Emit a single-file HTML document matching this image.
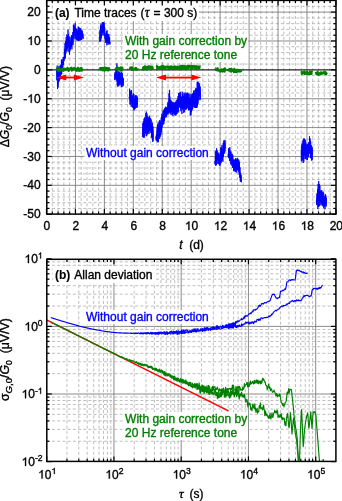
<!DOCTYPE html>
<html><head><meta charset="utf-8"><style>
html,body{margin:0;padding:0;background:#fff;width:342px;height:501px;overflow:hidden}
svg{display:block;will-change:transform}
</style></head><body>
<svg width="342" height="501" viewBox="0 0 342 501" font-family='"Liberation Sans", sans-serif'>
<rect width="342" height="501" fill="#fff"/>
<g stroke="#b4b4b4" stroke-width="0.85" stroke-dasharray="3 2.2" fill="none">
<line x1="52.29" y1="0.4" x2="52.29" y2="214.1"/>
<line x1="58.08" y1="0.4" x2="58.08" y2="214.1"/>
<line x1="63.86" y1="0.4" x2="63.86" y2="214.1"/>
<line x1="69.65" y1="0.4" x2="69.65" y2="214.1"/>
<line x1="81.23" y1="0.4" x2="81.23" y2="214.1"/>
<line x1="87.02" y1="0.4" x2="87.02" y2="214.1"/>
<line x1="92.8" y1="0.4" x2="92.8" y2="214.1"/>
<line x1="98.59" y1="0.4" x2="98.59" y2="214.1"/>
<line x1="110.17" y1="0.4" x2="110.17" y2="214.1"/>
<line x1="115.96" y1="0.4" x2="115.96" y2="214.1"/>
<line x1="121.74" y1="0.4" x2="121.74" y2="214.1"/>
<line x1="127.53" y1="0.4" x2="127.53" y2="214.1"/>
<line x1="139.11" y1="0.4" x2="139.11" y2="214.1"/>
<line x1="144.9" y1="0.4" x2="144.9" y2="214.1"/>
<line x1="150.68" y1="0.4" x2="150.68" y2="214.1"/>
<line x1="156.47" y1="0.4" x2="156.47" y2="214.1"/>
<line x1="168.05" y1="0.4" x2="168.05" y2="214.1"/>
<line x1="173.84" y1="0.4" x2="173.84" y2="214.1"/>
<line x1="179.62" y1="0.4" x2="179.62" y2="214.1"/>
<line x1="185.41" y1="0.4" x2="185.41" y2="214.1"/>
<line x1="196.99" y1="0.4" x2="196.99" y2="214.1"/>
<line x1="202.78" y1="0.4" x2="202.78" y2="214.1"/>
<line x1="208.56" y1="0.4" x2="208.56" y2="214.1"/>
<line x1="214.35" y1="0.4" x2="214.35" y2="214.1"/>
<line x1="225.93" y1="0.4" x2="225.93" y2="214.1"/>
<line x1="231.72" y1="0.4" x2="231.72" y2="214.1"/>
<line x1="237.5" y1="0.4" x2="237.5" y2="214.1"/>
<line x1="243.29" y1="0.4" x2="243.29" y2="214.1"/>
<line x1="254.87" y1="0.4" x2="254.87" y2="214.1"/>
<line x1="260.66" y1="0.4" x2="260.66" y2="214.1"/>
<line x1="266.44" y1="0.4" x2="266.44" y2="214.1"/>
<line x1="272.23" y1="0.4" x2="272.23" y2="214.1"/>
<line x1="283.81" y1="0.4" x2="283.81" y2="214.1"/>
<line x1="289.6" y1="0.4" x2="289.6" y2="214.1"/>
<line x1="295.38" y1="0.4" x2="295.38" y2="214.1"/>
<line x1="301.17" y1="0.4" x2="301.17" y2="214.1"/>
<line x1="312.75" y1="0.4" x2="312.75" y2="214.1"/>
<line x1="318.54" y1="0.4" x2="318.54" y2="214.1"/>
<line x1="324.32" y1="0.4" x2="324.32" y2="214.1"/>
<line x1="330.11" y1="0.4" x2="330.11" y2="214.1"/>
<line x1="46.8" y1="208.43" x2="336" y2="208.43"/>
<line x1="46.8" y1="202.65" x2="336" y2="202.65"/>
<line x1="46.8" y1="196.88" x2="336" y2="196.88"/>
<line x1="46.8" y1="191.1" x2="336" y2="191.1"/>
<line x1="46.8" y1="179.56" x2="336" y2="179.56"/>
<line x1="46.8" y1="173.78" x2="336" y2="173.78"/>
<line x1="46.8" y1="168.01" x2="336" y2="168.01"/>
<line x1="46.8" y1="162.23" x2="336" y2="162.23"/>
<line x1="46.8" y1="150.69" x2="336" y2="150.69"/>
<line x1="46.8" y1="144.91" x2="336" y2="144.91"/>
<line x1="46.8" y1="139.14" x2="336" y2="139.14"/>
<line x1="46.8" y1="133.36" x2="336" y2="133.36"/>
<line x1="46.8" y1="121.82" x2="336" y2="121.82"/>
<line x1="46.8" y1="116.04" x2="336" y2="116.04"/>
<line x1="46.8" y1="110.27" x2="336" y2="110.27"/>
<line x1="46.8" y1="104.49" x2="336" y2="104.49"/>
<line x1="46.8" y1="92.95" x2="336" y2="92.95"/>
<line x1="46.8" y1="87.17" x2="336" y2="87.17"/>
<line x1="46.8" y1="81.4" x2="336" y2="81.4"/>
<line x1="46.8" y1="75.62" x2="336" y2="75.62"/>
<line x1="46.8" y1="64.08" x2="336" y2="64.08"/>
<line x1="46.8" y1="58.3" x2="336" y2="58.3"/>
<line x1="46.8" y1="52.53" x2="336" y2="52.53"/>
<line x1="46.8" y1="46.75" x2="336" y2="46.75"/>
<line x1="46.8" y1="35.21" x2="336" y2="35.21"/>
<line x1="46.8" y1="29.43" x2="336" y2="29.43"/>
<line x1="46.8" y1="23.66" x2="336" y2="23.66"/>
<line x1="46.8" y1="17.88" x2="336" y2="17.88"/>
<line x1="46.8" y1="6.34" x2="336" y2="6.34"/>
</g>
<g stroke="#777777" stroke-width="0.85" fill="none">
<line x1="75.44" y1="0.4" x2="75.44" y2="214.1"/>
<line x1="104.38" y1="0.4" x2="104.38" y2="214.1"/>
<line x1="133.32" y1="0.4" x2="133.32" y2="214.1"/>
<line x1="162.26" y1="0.4" x2="162.26" y2="214.1"/>
<line x1="191.2" y1="0.4" x2="191.2" y2="214.1"/>
<line x1="220.14" y1="0.4" x2="220.14" y2="214.1"/>
<line x1="249.08" y1="0.4" x2="249.08" y2="214.1"/>
<line x1="278.02" y1="0.4" x2="278.02" y2="214.1"/>
<line x1="306.96" y1="0.4" x2="306.96" y2="214.1"/>
<line x1="46.8" y1="12.11" x2="336" y2="12.11"/>
<line x1="46.8" y1="40.98" x2="336" y2="40.98"/>
<line x1="46.8" y1="98.72" x2="336" y2="98.72"/>
<line x1="46.8" y1="127.59" x2="336" y2="127.59"/>
<line x1="46.8" y1="156.46" x2="336" y2="156.46"/>
<line x1="46.8" y1="185.33" x2="336" y2="185.33"/>
</g>
<line x1="46.8" y1="69.85" x2="336" y2="69.85" stroke="#222" stroke-width="1.2" />
<g fill="#fff">
<rect x="53" y="4" width="146" height="17"/>
<rect x="123" y="34" width="125.2" height="28"/>
<rect x="84.5" y="146" width="125" height="14"/>
</g>
<path d="M56.6,72.2 L56.8,69.9 L57,70.34 L57.3,70.41 L57.5,70.73 L58.5,70.94 L58.7,69.52 L59.6,67.97 L60,66.99 L61,64.71 L61.5,63.22 L62.5,61.03 L63.6,58.28 L63.8,57.73 L64.3,52.85 L64.8,48.36 L65.7,41.39 L66.6,38.82 L67.6,37.59 L68,34.06 L68.5,34.04 L69,34.36 L69.4,41.32 L70.4,42.52 L71.3,38.21 L72.2,37.45 L72.7,36.78 L73.2,29.42 L74.1,26.79 L75,26.81 L75.3,26.73 L76,30.84 L76.5,31.26 L76.9,31.62 L78.3,29.59 L79.3,30.32 L80.2,30.73 L80.7,30.93 L81.6,31.52 L82.1,32.51 L82.5,33.28 L83.2,35.36 L83.6,38.19 L83.6,38.41 L83.2,37.81 L82.5,37.55 L82.1,37.53 L81.6,37.44 L80.7,37.61 L80.2,37.75 L79.3,37.77 L78.3,37.71 L76.9,37.78 L76.5,37.54 L76,37.3 L75.3,35.97 L75,35.92 L74.1,34.91 L73.2,40.68 L72.7,44.12 L72.2,45.67 L71.3,46.89 L70.4,51.48 L69.4,50.78 L69,47.48 L68.5,45.71 L68,45.16 L67.6,45.71 L66.6,50.08 L65.7,53.31 L64.8,56.67 L64.3,58.7 L63.8,62.13 L63.6,63.1 L62.5,67.47 L61.5,71.68 L61,75.19 L60,76.33 L59.6,77.05 L58.7,78.48 L58.5,83.69 L57.5,83.85 L57.3,82.89 L57,81.58 L56.8,79.3 L56.6,77.8Z" fill="#0000ff"/>
<path d="M56.6,70.16 L56.9,80.25 L57.2,65.54 L57.5,89.01 L57.8,70.01 L58.1,87.42 L58.4,68.33 L58.7,82.13 L59,65.97 L59.3,80.85 L59.6,66.94 L59.9,79.64 L60.2,65.46 L60.5,78.82 L60.8,64.67 L61.1,74.92 L61.4,59.9 L61.7,74.09 L62,59.09 L62.3,70.67 L62.6,63.14 L62.9,68.13 L63.2,57 L63.5,65.02 L63.8,56.85 L64.1,61.11 L64.4,49.35 L64.7,58.87 L65,43.09 L65.3,58.41 L65.6,41.06 L65.9,53.62 L66.2,37.02 L66.5,49.4 L66.8,34.47 L67.1,51.46 L67.4,36.08 L67.7,48.77 L68,29.57 L68.3,47.27 L68.6,38.15 L68.9,52.01 L69.2,36.28 L69.5,54.68 L69.8,38.32 L70.1,48.8 L70.4,43.15 L70.7,47.5 L71,36.74 L71.3,46.61 L71.6,35.02 L71.9,49.36 L72.2,35.25 L72.5,42.6 L72.8,32.1 L73.1,44.94 L73.4,24.71 L73.7,37.56 L74,24.7 L74.3,34.45 L74.6,28.29 L74.9,39.36 L75.2,23.13 L75.5,38.2 L75.8,28.55 L76.1,38.46 L76.4,28.55 L76.7,40.24 L77,29.08 L77.3,40.15 L77.6,31.39 L77.9,40.81 L78.2,26.48 L78.5,40.85 L78.8,27.65 L79.1,40.51 L79.4,27.58 L79.7,40.45 L80,29.03 L80.3,40.39 L80.6,28.18 L80.9,39.81 L81.2,30.53 L81.5,39.92 L81.8,29.6 L82.1,39.25 L82.4,31.32 L82.7,36.29 L83,33.65 L83.3,38.7 L83.6,37.95" fill="none" stroke="#0000ff" stroke-width="0.85" stroke-linejoin="miter"/>
<path d="M99.3,41.31 L99.7,35.46 L100.2,28.91 L101.1,26.81 L102.1,24.49 L103,23.51 L103.5,23.6 L104,23.96 L104.4,25.73 L104.9,29.41 L105.4,33.19 L106.3,33.7 L107.2,33.35 L108.2,36.19 L109.1,36.93 L110,40.64 L110.3,45.04 L110.3,45.16 L110,44.06 L109.1,42.87 L108.2,42.51 L107.2,41.86 L106.3,42.1 L105.4,41.31 L104.9,39.89 L104.4,33.46 L104,32.52 L103.5,31.86 L103,32.19 L102.1,33.11 L101.1,36.49 L100.2,38.09 L99.7,39.94 L99.3,41.59Z" fill="#0000ff"/>
<path d="M99.3,41.08 L99.6,41.62 L99.9,30.2 L100.2,41.7 L100.5,25.18 L100.8,40.83 L101.1,23.65 L101.4,38.23 L101.7,26.87 L102,35.44 L102.3,22.02 L102.6,32.74 L102.9,22.21 L103.2,35.53 L103.5,22.11 L103.8,31.4 L104.1,22.68 L104.4,36.1 L104.7,27.49 L105,38.59 L105.3,35.47 L105.6,42.85 L105.9,35.09 L106.2,42.2 L106.5,31.22 L106.8,45.33 L107.1,30.27 L107.4,42.57 L107.7,34.61 L108,44.78 L108.3,33.95 L108.6,43.33 L108.9,34.45 L109.2,44.16 L109.5,37.14 L109.8,44.28 L110.1,41.65" fill="none" stroke="#0000ff" stroke-width="0.85" stroke-linejoin="miter"/>
<path d="M114.5,73.19 L115,73.19 L115.6,69.19 L115.9,67.35 L117,68.5 L117.8,74.12 L119.2,74.02 L119.9,74.3 L121.3,74.87 L122,75.55 L122.4,76.26 L123,76.36 L123.4,78.99 L123.5,78.44 L123.5,79.56 L123.4,83.95 L123,84.42 L122.4,86.2 L122,85.08 L121.3,83.29 L119.9,82.46 L119.2,82.05 L117.8,83.58 L117,81.5 L115.9,79.2 L115.6,79.18 L115,80.31 L114.5,80.31Z" fill="#0000ff"/>
<path d="M114.5,74.55 L114.8,79.77 L115.1,72.07 L115.4,78.92 L115.7,73.97 L116,78.95 L116.3,67.63 L116.6,80.52 L116.9,63.32 L117.2,85.29 L117.5,75.66 L117.8,86.83 L118.1,71.12 L118.4,86.1 L118.7,71.79 L119,83.69 L119.3,72.61 L119.6,85.37 L119.9,71.38 L120.2,80.2 L120.5,72.93 L120.8,85.31 L121.1,76.79 L121.4,87.04 L121.7,71.85 L122,87.13 L122.3,73.22 L122.6,84.76 L122.9,78.17 L123.2,86.19 L123.5,78.21" fill="none" stroke="#0000ff" stroke-width="0.85" stroke-linejoin="miter"/>
<path d="M129.1,97.19 L129.4,90.42 L129.7,91.14 L130.4,90.91 L131.1,92.43 L131.8,93.86 L132.8,95.51 L133.2,96.31 L134.2,97.92 L134.6,98.29 L136,98.29 L136.7,98.35 L137.8,99.26 L137.8,104.74 L136.7,105.1 L136,105.48 L134.6,106.65 L134.2,106.88 L133.2,104.99 L132.8,104.19 L131.8,103.43 L131.1,102.82 L130.4,101.89 L129.7,101.45 L129.4,98.38 L129.1,97.41Z" fill="#0000ff"/>
<path d="M129.1,97.01 L129.4,98.05 L129.7,88.7 L130,104.63 L130.3,90.61 L130.6,104.29 L130.9,91.78 L131.2,106.92 L131.5,90.05 L131.8,100.14 L132.1,97.56 L132.4,107.41 L132.7,95.98 L133,107.5 L133.3,93.22 L133.6,109.35 L133.9,94.14 L134.2,110.51 L134.5,97.9 L134.8,108.65 L135.1,95.69 L135.4,108.7 L135.7,95.22 L136,104.66 L136.3,95.48 L136.6,107.87 L136.9,95.84 L137.2,107.46 L137.5,97.05" fill="none" stroke="#0000ff" stroke-width="0.85" stroke-linejoin="miter"/>
<path d="M142.2,136.09 L142.8,126.6 L143.4,124.13 L144,121.79 L145.2,119.92 L146.4,116.84 L147.6,119.39 L149.4,119.57 L151.2,123.29 L152.4,126.99 L152.6,127.37 L153.3,130.96 L153.6,134.83 L153.6,139.47 L153.3,138.49 L152.6,137.73 L152.4,137.69 L151.2,132.41 L149.4,129.93 L147.6,130.81 L146.4,130.96 L145.2,132.68 L144,133.21 L143.4,133.87 L142.8,135 L142.2,138.11Z" fill="#0000ff"/>
<path d="M142.2,136.09 L142.5,137.11 L142.8,123.16 L143.1,136 L143.4,121.35 L143.7,137.84 L144,118.68 L144.3,137.42 L144.6,117.44 L144.9,135.96 L145.2,118.92 L145.5,133.49 L145.8,112.98 L146.1,131.11 L146.4,111.61 L146.7,136.31 L147,113.63 L147.3,134.5 L147.6,116.2 L147.9,134.18 L148.2,117.41 L148.5,132.14 L148.8,117.31 L149.1,133.99 L149.4,115.68 L149.7,130.51 L150,117.83 L150.3,130.98 L150.6,118.15 L150.9,132.8 L151.2,119.57 L151.5,137.42 L151.8,128.23 L152.1,138.47 L152.4,122.65 L152.7,141.9 L153,126.38 L153.3,141.19" fill="none" stroke="#0000ff" stroke-width="0.85" stroke-linejoin="miter"/>
<path d="M155.8,136.88 L156.6,133.81 L157.2,128.33 L157.8,127.52 L159,125.39 L160.2,123.97 L160.8,123.13 L161.4,119.8 L162,116.46 L162.6,115.27 L163.7,113.27 L165.5,109.48 L167.3,107.96 L168.5,100.79 L169.4,95.06 L170.3,96.52 L170.9,102.95 L172,103.74 L173.5,105.3 L173.8,105.56 L175.1,106 L175.6,105.12 L176.8,102.8 L178,99.13 L179.2,95.59 L180.4,95.56 L181.6,96.5 L182.2,96.85 L184,96.32 L186.4,96 L188.8,97.46 L190.6,97.81 L191.2,97.05 L192.4,95.53 L193.6,94.93 L194.8,93.55 L195.4,92.92 L196.6,87.85 L197.1,87.64 L197.7,86.86 L198.9,86.74 L199.8,86.14 L200.7,93.88 L200.7,97.92 L199.8,96.16 L198.9,96.76 L197.7,100.24 L197.1,102.19 L196.6,102.25 L195.4,103.68 L194.8,103.85 L193.6,104.67 L192.4,105.27 L191.2,109.15 L190.6,111.09 L188.8,107.54 L186.4,105.4 L184,108.08 L182.2,109.95 L181.6,108.7 L180.4,106.14 L179.2,107.01 L178,108.87 L176.8,111.2 L175.6,113.15 L175.1,113.63 L173.8,114.13 L173.5,113.7 L172,111.46 L170.9,111.99 L170.3,110.58 L169.4,108.44 L168.5,110.43 L167.3,112.94 L165.5,116.82 L163.7,121.33 L162.6,124.48 L162,126.54 L161.4,129.2 L160.8,131.87 L160.2,133.83 L159,136.81 L157.8,138.28 L157.2,138.07 L156.6,139.19 L155.8,139.12Z" fill="#0000ff"/>
<path d="M155.8,136.38 L156.1,140.37 L156.4,134.45 L156.7,140.9 L157,127.53 L157.3,141.73 L157.6,124.14 L157.9,142.49 L158.2,122.37 L158.5,141.9 L158.8,126.12 L159.1,137.1 L159.4,120.49 L159.7,138.89 L160,120.1 L160.3,136.72 L160.6,121.94 L160.9,135.05 L161.2,117.47 L161.5,132.27 L161.8,113.84 L162.1,127.83 L162.4,117.43 L162.7,123.39 L163,111.27 L163.3,124.62 L163.6,110.2 L163.9,123.92 L164.2,109.22 L164.5,120.92 L164.8,107.99 L165.1,117.77 L165.4,106.73 L165.7,116.55 L166,106.9 L166.3,117.24 L166.6,107.79 L166.9,115.23 L167.2,107.1 L167.5,114.02 L167.8,102.21 L168.1,114.57 L168.4,105.29 L168.7,113.39 L169,93.32 L169.3,112.31 L169.6,89.92 L169.9,113.33 L170.2,100.51 L170.5,113.52 L170.8,99.94 L171.1,115.11 L171.4,100.88 L171.7,111.88 L172,106.15 L172.3,114.53 L172.6,101.77 L172.9,116.14 L173.2,102.45 L173.5,113.31 L173.8,102.49 L174.1,111.93 L174.4,102.64 L174.7,114.93 L175,103.96 L175.3,115.6 L175.6,101.82 L175.9,115.41 L176.2,100.59 L176.5,114.22 L176.8,100.06 L177.1,113.87 L177.4,98.9 L177.7,111.91 L178,96.17 L178.3,112.49 L178.6,93.05 L178.9,107.64 L179.2,93.07 L179.5,106.27 L179.8,92.5 L180.1,108.15 L180.4,91.83 L180.7,111.12 L181,103.16 L181.3,104.38 L181.6,102.37 L181.9,114.02 L182.2,91.67 L182.5,106.77 L182.8,94.33 L183.1,104.18 L183.4,96.44 L183.7,112.98 L184,92.7 L184.3,112.15 L184.6,94.5 L184.9,106.6 L185.2,92.52 L185.5,109.8 L185.8,95.39 L186.1,109.69 L186.4,93.03 L186.7,108.85 L187,92.7 L187.3,108.25 L187.6,92.79 L187.9,106.67 L188.2,93.57 L188.5,110.34 L188.8,93.8 L189.1,109.71 L189.4,98.43 L189.7,110.07 L190,93.75 L190.3,115.58 L190.6,97.78 L190.9,115.01 L191.2,95.18 L191.5,112.19 L191.8,94.13 L192.1,110.43 L192.4,93.57 L192.7,108.95 L193,93.34 L193.3,107.15 L193.6,90.97 L193.9,102.45 L194.2,90.19 L194.5,107.51 L194.8,92.71 L195.1,107.77 L195.4,88.96 L195.7,108.02 L196,87.86 L196.3,107.98 L196.6,88.62 L196.9,107.93 L197.2,82.06 L197.5,106.21 L197.8,81.61 L198.1,103.51 L198.4,82.38 L198.7,100.03 L199,85.96 L199.3,94.01 L199.6,83.28 L199.9,100.18 L200.2,86.59 L200.5,99.33" fill="none" stroke="#0000ff" stroke-width="0.85" stroke-linejoin="miter"/>
<path d="M214.8,161.96 L215.4,154.47 L216,153.1 L216.6,151.47 L217.2,153.04 L217.8,155.14 L219,155.67 L219.6,155.54 L220.2,153.4 L221.4,148.69 L222,148.58 L222.6,148.94 L223.2,146.73 L223.8,143.47 L224.4,142.08 L225,141.2 L225.6,144.54 L225.6,148.46 L225,148.85 L224.4,150.42 L223.8,153.83 L223.2,157.77 L222.6,157.96 L222,157.42 L221.4,158.61 L220.2,162.23 L219.6,163.26 L219,163.73 L217.8,161.86 L217.2,160.41 L216.6,160.83 L216,162.15 L215.4,162.53 L214.8,164.64Z" fill="#0000ff"/>
<path d="M214.8,160.76 L215.1,164.32 L215.4,151.41 L215.7,165.85 L216,150.52 L216.3,165.23 L216.6,148.26 L216.9,163.96 L217.2,150.37 L217.5,161.11 L217.8,152.38 L218.1,163.81 L218.4,152.83 L218.7,163.85 L219,154.15 L219.3,165.16 L219.6,157.51 L219.9,165.99 L220.2,152.68 L220.5,164.26 L220.8,147.25 L221.1,163.13 L221.4,147.33 L221.7,161.43 L222,144.95 L222.3,160.29 L222.6,152.02 L222.9,161.74 L223.2,143 L223.5,156.72 L223.8,140.41 L224.1,153.94 L224.4,141.18 L224.7,152.48 L225,140 L225.3,150.99" fill="none" stroke="#0000ff" stroke-width="0.85" stroke-linejoin="miter"/>
<path d="M228,154.76 L228.6,151.15 L229.8,150.48 L230.4,150.36 L231.6,155.67 L232.8,158.33 L233.4,159.33 L234,159.73 L235.1,160.51 L235.7,160.91 L236.9,161.62 L237.5,161.51 L238.7,161.55 L239.3,163.13 L239.7,164.64 L240.2,173.78 L240.5,174.91 L241.4,177 L241.6,182.61 L241.6,182.89 L241.4,181.32 L240.5,180.79 L240.2,179.07 L239.7,174.16 L239.3,171.87 L238.7,170.85 L237.5,169.69 L236.9,169.58 L235.7,169.09 L235.1,168.67 L234,167.89 L233.4,167.57 L232.8,167.07 L231.6,163.73 L230.4,159.94 L229.8,158.82 L228.6,158.15 L228,157.44Z" fill="#0000ff"/>
<path d="M228,154.3 L228.3,156.86 L228.6,148.25 L228.9,158.03 L229.2,148.54 L229.5,161.08 L229.8,147.14 L230.1,157.41 L230.4,153.97 L230.7,164.44 L231,151.67 L231.3,160.87 L231.6,154.46 L231.9,165.93 L232.2,153.82 L232.5,167.75 L232.8,155.17 L233.1,167.71 L233.4,160.42 L233.7,171.08 L234,159.87 L234.3,171.4 L234.6,159.62 L234.9,170.4 L235.2,159.42 L235.5,172.07 L235.8,158.07 L236.1,167.83 L236.4,159.54 L236.7,172.65 L237,158.69 L237.3,169.72 L237.6,158.19 L237.9,170.42 L238.2,159.34 L238.5,171.62 L238.8,159.87 L239.1,174.62 L239.4,161.75 L239.7,177.73 L240,167.32 L240.3,181.48 L240.6,172.86 L240.9,182 L241.2,174.85 L241.5,182.56" fill="none" stroke="#0000ff" stroke-width="0.85" stroke-linejoin="miter"/>
<path d="M301.1,150.13 L301.6,148.8 L301.8,148.3 L302.6,145.49 L303.5,144.22 L303.7,143.79 L304.5,142.53 L305.2,143.86 L305.5,144.81 L306,146.61 L306.5,147.82 L306.9,148.72 L307.8,145.92 L308,145.23 L308.6,142.82 L309,141.85 L309.6,140.97 L310,142.35 L310.3,143.42 L311,146.85 L312,149.19 L312.4,150.02 L312.6,150.07 L312.7,153.32 L312.7,156.68 L312.6,156.36 L312.4,157.54 L312,157.31 L311,156.65 L310.3,154.68 L310,153.95 L309.6,153.13 L309,152.73 L308.6,153.8 L308,155.69 L307.8,155.88 L306.9,156.68 L306.5,156.42 L306,155.79 L305.5,155 L305.2,154.94 L304.5,155.07 L303.7,157.27 L303.5,157.85 L302.6,158.21 L301.8,159 L301.6,158.48 L301.1,151.47Z" fill="#0000ff"/>
<path d="M301.1,149.73 L301.4,161.46 L301.7,144.44 L302,160.88 L302.3,143.09 L302.6,159.76 L302.9,140.35 L303.2,162.98 L303.5,138.79 L303.8,162.07 L304.1,138.37 L304.4,153.84 L304.7,138.98 L305,159.13 L305.3,139.83 L305.6,158.77 L305.9,142.79 L306.2,154.08 L306.5,144.49 L306.8,159.79 L307.1,144.77 L307.4,159.89 L307.7,143.84 L308,157.68 L308.3,149.83 L308.6,157.07 L308.9,142.08 L309.2,153.73 L309.5,136.3 L309.8,151.94 L310.1,138.49 L310.4,158.23 L310.7,141.53 L311,158.03 L311.3,145.04 L311.6,160.58 L311.9,146.72 L312.2,160.22 L312.5,147.58" fill="none" stroke="#0000ff" stroke-width="0.85" stroke-linejoin="miter"/>
<path d="M316.3,199.4 L316.8,197.2 L317.2,194.91 L318,190.14 L318.5,186.86 L319.7,186.33 L320.2,192.91 L321.4,193.17 L322.3,193.67 L323.1,195.17 L324.8,197.62 L325.7,197.34 L326,197.26 L326.5,199.54 L326.6,204.77 L326.6,204.93 L326.5,203.71 L326,204.3 L325.7,205.06 L324.8,207.58 L323.1,203.23 L322.3,202.23 L321.4,201.45 L320.2,201.83 L319.7,200.17 L318.5,202.04 L318,203.68 L317.2,204.59 L316.8,205.02 L316.3,203.2Z" fill="#0000ff"/>
<path d="M316.3,199.87 L316.6,205.05 L316.9,193.49 L317.2,203.87 L317.5,189.13 L317.8,208.99 L318.1,184 L318.4,206.89 L318.7,181.15 L319,206.5 L319.3,183.96 L319.6,205.82 L319.9,185.53 L320.2,200.69 L320.5,190.74 L320.8,205.16 L321.1,190.62 L321.4,203.48 L321.7,190.14 L322,205.38 L322.3,192.07 L322.6,205.98 L322.9,191.54 L323.2,206.63 L323.5,192.58 L323.8,208.28 L324.1,198.7 L324.4,205.89 L324.7,195.88 L325,209.26 L325.3,193.96 L325.6,205.97 L325.9,195.43 L326.2,206.53 L326.5,197.76" fill="none" stroke="#0000ff" stroke-width="0.85" stroke-linejoin="miter"/>
<path d="M56.3,68.53 L56.7,69.3 L57.1,68.49 L57.5,69.53 L57.9,69.4 L58.3,70.85 L58.7,70.97 L59.1,67.72 L59.5,69.51 L59.9,70.22 L60.3,70.57 L60.7,70.23 L61.1,69.75 L61.5,69.76 L61.9,68.83 L62.3,68.56 L62.7,70.3 L63.1,70.57 L63.5,70.79 L63.9,69.92 L64.3,68.63 L64.7,70.2 L65.1,70.11 L65.5,69.33 L65.9,69.76 L66.3,68.79 L66.7,69.47 L67.1,68.98 L67.5,67.81 L67.9,68.75 L68.3,68.7 L68.7,70.96 L69.1,69.24 L69.5,68.85 L69.9,68.43 L70.3,68.4 L70.7,68.79 L71.1,68.06 L71.5,67.62 L71.9,70.56 L72.3,69.14 L72.7,69.11 L73.1,69.53 L73.5,68.63 L73.9,68.17 L74.3,67.83 L74.7,68.63 L75.1,68.65 L75.5,70.07 L75.9,69.47 L76.3,70.79 L76.7,68.76 L77.1,70.73 L77.5,69.58 L77.9,67.87 L78.3,68.21 L78.7,69.57 L79.1,70.96 L79.5,68.81 L79.9,70.23 L80.3,69.06 L80.7,70.55 L81.1,67.83 L81.5,69.25 L81.9,70.66 L82.3,68.54 L82.7,68.48" fill="none" stroke="#008000" stroke-width="2.2" stroke-linejoin="round"/>
<path d="M99.5,67.38 L99.9,67.86 L100.3,68.21 L100.7,69.69 L101.1,68.04 L101.5,68.66 L101.9,67.98 L102.3,69.35 L102.7,70.24 L103.1,69.5 L103.5,67.97 L103.9,69.8 L104.3,70.57 L104.7,69.34 L105.1,67.57 L105.5,70.05 L105.9,70.28 L106.3,68.46 L106.7,67.76 L107.1,67.94 L107.5,69.13 L107.9,70.28 L108.3,69.48 L108.7,70.44 L109.1,68.02 L109.5,68.41" fill="none" stroke="#008000" stroke-width="2.2" stroke-linejoin="round"/>
<path d="M115,69.85 L115.4,69.51 L115.8,68.68 L116.2,69.61 L116.6,68.45 L117,67.5 L117.4,68.71 L117.8,67.45 L118.2,69.43 L118.6,68.44 L119,68.98 L119.4,69.33 L119.8,68.17 L120.2,68.88 L120.6,67.35 L121,70.45 L121.4,69.22 L121.8,70.66 L122.2,67.49 L122.6,69.39" fill="none" stroke="#008000" stroke-width="2.2" stroke-linejoin="round"/>
<path d="M129.7,69.56 L130.1,68.22 L130.5,67.42 L130.9,67.63 L131.3,67.59 L131.7,69.71 L132.1,67.41 L132.5,69.87 L132.9,68.54 L133.3,68.93 L133.7,69.1 L134.1,68.99 L134.5,69.34 L134.9,69.15 L135.3,68.22 L135.7,69.62 L136.1,67.98 L136.5,69.52 L136.9,69.7 L137.3,69.74 L137.7,68.15" fill="none" stroke="#008000" stroke-width="2.2" stroke-linejoin="round"/>
<path d="M142.3,68.93 L142.7,69.62 L143.1,67.83 L143.5,67.22 L143.9,68.05 L144.3,69.46 L144.7,66.71 L145.1,66.28 L145.5,67.86 L145.9,68.46 L146.3,68.86 L146.7,67.45 L147.1,69.58 L147.5,66.98 L147.9,68.77 L148.3,66.5 L148.7,66.28 L149.1,66.63 L149.5,66.37 L149.9,67.87 L150.3,68.04 L150.7,66.77 L151.1,69.34 L151.5,67.38 L151.9,66.63 L152.3,66.72 L152.7,68.62 L153.1,69.24" fill="none" stroke="#008000" stroke-width="2.2" stroke-linejoin="round"/>
<path d="M156.5,66.45 L156.9,66 L157.3,68.54 L157.7,66.72 L158.1,69.23 L158.5,67.59 L158.9,68.05 L159.3,67.06 L159.7,68.61 L160.1,67.45 L160.5,66.98 L160.9,68.95 L161.3,66.24 L161.7,68.37 L162.1,66.1 L162.5,68.07 L162.9,67.24 L163.3,68.81 L163.7,66.07 L164.1,67.78 L164.5,67.26 L164.9,68.99 L165.3,69.07 L165.7,67.99 L166.1,66.62 L166.5,66.71 L166.9,66.74 L167.3,67.33 L167.7,66.64 L168.1,66.54 L168.5,68.43 L168.9,68.03 L169.3,66.86 L169.7,69.22 L170.1,66.57 L170.5,67.77 L170.9,66.37 L171.3,68.77 L171.7,68.79 L172.1,66.74 L172.5,68.38 L172.9,68.62 L173.3,66.78 L173.7,66.95 L174.1,67.47 L174.5,68.85 L174.9,66.37 L175.3,68.14 L175.7,67.84 L176.1,67.35 L176.5,67.78 L176.9,68.81 L177.3,66.52 L177.7,68.81 L178.1,67.03 L178.5,68.45 L178.9,68.73 L179.3,66.42 L179.7,68.73 L180.1,69.18 L180.5,66.8 L180.9,65.87 L181.3,66.17 L181.7,69.1 L182.1,65.82 L182.5,68.88 L182.9,66.29 L183.3,68.28 L183.7,66.11 L184.1,66.35 L184.5,68.09 L184.9,66.08 L185.3,66.92 L185.7,68.89 L186.1,68.2 L186.5,68.76 L186.9,69.09 L187.3,65.87 L187.7,66.56 L188.1,68.45 L188.5,68.1 L188.9,65.88 L189.3,67.47 L189.7,66.54 L190.1,67.21 L190.5,66.1 L190.9,65.81 L191.3,69.11 L191.7,66.82 L192.1,68.73 L192.5,66.15 L192.9,67.39 L193.3,66.2 L193.7,67.19 L194.1,66.34 L194.5,68.06 L194.9,66.23 L195.3,68.23 L195.7,67.43 L196.1,66.1 L196.5,66.92 L196.9,67.4 L197.3,68.84 L197.7,66.9 L198.1,66.44 L198.5,69 L198.9,68.71 L199.3,68.19 L199.7,66.63 L200.1,66.31 L200.5,66.6" fill="none" stroke="#008000" stroke-width="2.2" stroke-linejoin="round"/>
<path d="M215.3,68.53 L215.7,68.45 L216.1,70.03 L216.5,69.69 L216.9,70.19 L217.3,69.53 L217.7,68.34 L218.1,70.64 L218.5,70.52 L218.9,70.15 L219.3,70.17 L219.7,70.65 L220.1,71.64 L220.5,71.27 L220.9,70.74 L221.3,69.66 L221.7,69.38 L222.1,69.73 L222.5,71.61 L222.9,69.62 L223.3,69.61 L223.7,69.69 L224.1,68.79 L224.5,71.69 L224.9,68.32 L225.3,70.37 L225.7,71.45" fill="none" stroke="#008000" stroke-width="2.2" stroke-linejoin="round"/>
<path d="M227.9,69.17 L228.3,70.41 L228.7,69.64 L229.1,69.21 L229.5,69.09 L229.9,68.84 L230.3,71.34 L230.7,71.17 L231.1,71.62 L231.5,68.73 L231.9,70.95 L232.3,69.72 L232.7,70.85 L233.1,70.55 L233.5,69.78 L233.9,72.04 L234.3,68.77 L234.7,71.33 L235.1,71.73 L235.5,70.59 L235.9,70.9 L236.3,72.3 L236.7,69.74 L237.1,71.11 L237.5,71.53 L237.9,70.32 L238.3,71.48 L238.7,70.43 L239.1,70.91 L239.5,71.23 L239.9,71.48 L240.3,70.3 L240.7,71.37 L241.1,71.11 L241.5,70.05" fill="none" stroke="#008000" stroke-width="2.2" stroke-linejoin="round"/>
<path d="M301.3,72.98 L301.7,71.81 L302.1,74.02 L302.5,72.55 L302.9,73.41 L303.3,72.75 L303.7,72.6 L304.1,71.75 L304.5,71.5 L304.9,74.18 L305.3,72.84 L305.7,72.84 L306.1,72.86 L306.5,73.85 L306.9,71.91 L307.3,71.7 L307.7,73.92 L308.1,72.7 L308.5,73.33 L308.9,73.98 L309.3,74.22 L309.7,74.15 L310.1,71.36 L310.5,72.52 L310.9,74.07 L311.3,74.03 L311.7,71.68 L312.1,71.8 L312.5,72.15" fill="none" stroke="#008000" stroke-width="2.2" stroke-linejoin="round"/>
<path d="M315.7,71.85 L316.1,72.73 L316.5,74.27 L316.9,73.33 L317.3,73.12 L317.7,71.9 L318.1,72.97 L318.5,75.03 L318.9,74.03 L319.3,73.21 L319.7,73.33 L320.1,74.44 L320.5,74.32 L320.9,72.27 L321.3,74.1 L321.7,73.05 L322.1,73.6 L322.5,72.65 L322.9,73.13 L323.3,73.04 L323.7,73.2 L324.1,71.99 L324.5,72.63 L324.9,73.91 L325.3,72.18 L325.7,72.62 L326.1,74.47 L326.5,72.98 L326.9,73.17 L327.3,72.91" fill="none" stroke="#008000" stroke-width="2.2" stroke-linejoin="round"/>
<line x1="65.3" y1="77.5" x2="75" y2="77.5" stroke="#ff0000" stroke-width="1.8"/>
<path d="M56.3,77.5 L66.3,74.5 L66.3,80.5Z M84,77.5 L74,74.5 L74,80.5Z" fill="#ff0000"/>
<line x1="165" y1="77.6" x2="192.3" y2="77.6" stroke="#ff0000" stroke-width="1.8"/>
<path d="M156,77.6 L166,74.6 L166,80.6Z M201.3,77.6 L191.3,74.6 L191.3,80.6Z" fill="#ff0000"/>
<g stroke="#000" stroke-width="1.2">
<line x1="46.5" y1="214.1" x2="46.5" y2="209.1"/>
<line x1="46.5" y1="0.4" x2="46.5" y2="5.4"/>
<line x1="75.44" y1="214.1" x2="75.44" y2="209.1"/>
<line x1="75.44" y1="0.4" x2="75.44" y2="5.4"/>
<line x1="104.38" y1="214.1" x2="104.38" y2="209.1"/>
<line x1="104.38" y1="0.4" x2="104.38" y2="5.4"/>
<line x1="133.32" y1="214.1" x2="133.32" y2="209.1"/>
<line x1="133.32" y1="0.4" x2="133.32" y2="5.4"/>
<line x1="162.26" y1="214.1" x2="162.26" y2="209.1"/>
<line x1="162.26" y1="0.4" x2="162.26" y2="5.4"/>
<line x1="191.2" y1="214.1" x2="191.2" y2="209.1"/>
<line x1="191.2" y1="0.4" x2="191.2" y2="5.4"/>
<line x1="220.14" y1="214.1" x2="220.14" y2="209.1"/>
<line x1="220.14" y1="0.4" x2="220.14" y2="5.4"/>
<line x1="249.08" y1="214.1" x2="249.08" y2="209.1"/>
<line x1="249.08" y1="0.4" x2="249.08" y2="5.4"/>
<line x1="278.02" y1="214.1" x2="278.02" y2="209.1"/>
<line x1="278.02" y1="0.4" x2="278.02" y2="5.4"/>
<line x1="306.96" y1="214.1" x2="306.96" y2="209.1"/>
<line x1="306.96" y1="0.4" x2="306.96" y2="5.4"/>
<line x1="335.9" y1="214.1" x2="335.9" y2="209.1"/>
<line x1="335.9" y1="0.4" x2="335.9" y2="5.4"/>
<line x1="52.29" y1="214.1" x2="52.29" y2="211.5"/>
<line x1="52.29" y1="0.4" x2="52.29" y2="3"/>
<line x1="58.08" y1="214.1" x2="58.08" y2="211.5"/>
<line x1="58.08" y1="0.4" x2="58.08" y2="3"/>
<line x1="63.86" y1="214.1" x2="63.86" y2="211.5"/>
<line x1="63.86" y1="0.4" x2="63.86" y2="3"/>
<line x1="69.65" y1="214.1" x2="69.65" y2="211.5"/>
<line x1="69.65" y1="0.4" x2="69.65" y2="3"/>
<line x1="81.23" y1="214.1" x2="81.23" y2="211.5"/>
<line x1="81.23" y1="0.4" x2="81.23" y2="3"/>
<line x1="87.02" y1="214.1" x2="87.02" y2="211.5"/>
<line x1="87.02" y1="0.4" x2="87.02" y2="3"/>
<line x1="92.8" y1="214.1" x2="92.8" y2="211.5"/>
<line x1="92.8" y1="0.4" x2="92.8" y2="3"/>
<line x1="98.59" y1="214.1" x2="98.59" y2="211.5"/>
<line x1="98.59" y1="0.4" x2="98.59" y2="3"/>
<line x1="110.17" y1="214.1" x2="110.17" y2="211.5"/>
<line x1="110.17" y1="0.4" x2="110.17" y2="3"/>
<line x1="115.96" y1="214.1" x2="115.96" y2="211.5"/>
<line x1="115.96" y1="0.4" x2="115.96" y2="3"/>
<line x1="121.74" y1="214.1" x2="121.74" y2="211.5"/>
<line x1="121.74" y1="0.4" x2="121.74" y2="3"/>
<line x1="127.53" y1="214.1" x2="127.53" y2="211.5"/>
<line x1="127.53" y1="0.4" x2="127.53" y2="3"/>
<line x1="139.11" y1="214.1" x2="139.11" y2="211.5"/>
<line x1="139.11" y1="0.4" x2="139.11" y2="3"/>
<line x1="144.9" y1="214.1" x2="144.9" y2="211.5"/>
<line x1="144.9" y1="0.4" x2="144.9" y2="3"/>
<line x1="150.68" y1="214.1" x2="150.68" y2="211.5"/>
<line x1="150.68" y1="0.4" x2="150.68" y2="3"/>
<line x1="156.47" y1="214.1" x2="156.47" y2="211.5"/>
<line x1="156.47" y1="0.4" x2="156.47" y2="3"/>
<line x1="168.05" y1="214.1" x2="168.05" y2="211.5"/>
<line x1="168.05" y1="0.4" x2="168.05" y2="3"/>
<line x1="173.84" y1="214.1" x2="173.84" y2="211.5"/>
<line x1="173.84" y1="0.4" x2="173.84" y2="3"/>
<line x1="179.62" y1="214.1" x2="179.62" y2="211.5"/>
<line x1="179.62" y1="0.4" x2="179.62" y2="3"/>
<line x1="185.41" y1="214.1" x2="185.41" y2="211.5"/>
<line x1="185.41" y1="0.4" x2="185.41" y2="3"/>
<line x1="196.99" y1="214.1" x2="196.99" y2="211.5"/>
<line x1="196.99" y1="0.4" x2="196.99" y2="3"/>
<line x1="202.78" y1="214.1" x2="202.78" y2="211.5"/>
<line x1="202.78" y1="0.4" x2="202.78" y2="3"/>
<line x1="208.56" y1="214.1" x2="208.56" y2="211.5"/>
<line x1="208.56" y1="0.4" x2="208.56" y2="3"/>
<line x1="214.35" y1="214.1" x2="214.35" y2="211.5"/>
<line x1="214.35" y1="0.4" x2="214.35" y2="3"/>
<line x1="225.93" y1="214.1" x2="225.93" y2="211.5"/>
<line x1="225.93" y1="0.4" x2="225.93" y2="3"/>
<line x1="231.72" y1="214.1" x2="231.72" y2="211.5"/>
<line x1="231.72" y1="0.4" x2="231.72" y2="3"/>
<line x1="237.5" y1="214.1" x2="237.5" y2="211.5"/>
<line x1="237.5" y1="0.4" x2="237.5" y2="3"/>
<line x1="243.29" y1="214.1" x2="243.29" y2="211.5"/>
<line x1="243.29" y1="0.4" x2="243.29" y2="3"/>
<line x1="254.87" y1="214.1" x2="254.87" y2="211.5"/>
<line x1="254.87" y1="0.4" x2="254.87" y2="3"/>
<line x1="260.66" y1="214.1" x2="260.66" y2="211.5"/>
<line x1="260.66" y1="0.4" x2="260.66" y2="3"/>
<line x1="266.44" y1="214.1" x2="266.44" y2="211.5"/>
<line x1="266.44" y1="0.4" x2="266.44" y2="3"/>
<line x1="272.23" y1="214.1" x2="272.23" y2="211.5"/>
<line x1="272.23" y1="0.4" x2="272.23" y2="3"/>
<line x1="283.81" y1="214.1" x2="283.81" y2="211.5"/>
<line x1="283.81" y1="0.4" x2="283.81" y2="3"/>
<line x1="289.6" y1="214.1" x2="289.6" y2="211.5"/>
<line x1="289.6" y1="0.4" x2="289.6" y2="3"/>
<line x1="295.38" y1="214.1" x2="295.38" y2="211.5"/>
<line x1="295.38" y1="0.4" x2="295.38" y2="3"/>
<line x1="301.17" y1="214.1" x2="301.17" y2="211.5"/>
<line x1="301.17" y1="0.4" x2="301.17" y2="3"/>
<line x1="312.75" y1="214.1" x2="312.75" y2="211.5"/>
<line x1="312.75" y1="0.4" x2="312.75" y2="3"/>
<line x1="318.54" y1="214.1" x2="318.54" y2="211.5"/>
<line x1="318.54" y1="0.4" x2="318.54" y2="3"/>
<line x1="324.32" y1="214.1" x2="324.32" y2="211.5"/>
<line x1="324.32" y1="0.4" x2="324.32" y2="3"/>
<line x1="330.11" y1="214.1" x2="330.11" y2="211.5"/>
<line x1="330.11" y1="0.4" x2="330.11" y2="3"/>
<line x1="46.8" y1="214.2" x2="51.8" y2="214.2"/>
<line x1="336" y1="214.2" x2="331" y2="214.2"/>
<line x1="46.8" y1="185.33" x2="51.8" y2="185.33"/>
<line x1="336" y1="185.33" x2="331" y2="185.33"/>
<line x1="46.8" y1="156.46" x2="51.8" y2="156.46"/>
<line x1="336" y1="156.46" x2="331" y2="156.46"/>
<line x1="46.8" y1="127.59" x2="51.8" y2="127.59"/>
<line x1="336" y1="127.59" x2="331" y2="127.59"/>
<line x1="46.8" y1="98.72" x2="51.8" y2="98.72"/>
<line x1="336" y1="98.72" x2="331" y2="98.72"/>
<line x1="46.8" y1="69.85" x2="51.8" y2="69.85"/>
<line x1="336" y1="69.85" x2="331" y2="69.85"/>
<line x1="46.8" y1="40.98" x2="51.8" y2="40.98"/>
<line x1="336" y1="40.98" x2="331" y2="40.98"/>
<line x1="46.8" y1="12.11" x2="51.8" y2="12.11"/>
<line x1="336" y1="12.11" x2="331" y2="12.11"/>
<line x1="46.8" y1="208.43" x2="49.4" y2="208.43"/>
<line x1="336" y1="208.43" x2="333.4" y2="208.43"/>
<line x1="46.8" y1="202.65" x2="49.4" y2="202.65"/>
<line x1="336" y1="202.65" x2="333.4" y2="202.65"/>
<line x1="46.8" y1="196.88" x2="49.4" y2="196.88"/>
<line x1="336" y1="196.88" x2="333.4" y2="196.88"/>
<line x1="46.8" y1="191.1" x2="49.4" y2="191.1"/>
<line x1="336" y1="191.1" x2="333.4" y2="191.1"/>
<line x1="46.8" y1="179.56" x2="49.4" y2="179.56"/>
<line x1="336" y1="179.56" x2="333.4" y2="179.56"/>
<line x1="46.8" y1="173.78" x2="49.4" y2="173.78"/>
<line x1="336" y1="173.78" x2="333.4" y2="173.78"/>
<line x1="46.8" y1="168.01" x2="49.4" y2="168.01"/>
<line x1="336" y1="168.01" x2="333.4" y2="168.01"/>
<line x1="46.8" y1="162.23" x2="49.4" y2="162.23"/>
<line x1="336" y1="162.23" x2="333.4" y2="162.23"/>
<line x1="46.8" y1="150.69" x2="49.4" y2="150.69"/>
<line x1="336" y1="150.69" x2="333.4" y2="150.69"/>
<line x1="46.8" y1="144.91" x2="49.4" y2="144.91"/>
<line x1="336" y1="144.91" x2="333.4" y2="144.91"/>
<line x1="46.8" y1="139.14" x2="49.4" y2="139.14"/>
<line x1="336" y1="139.14" x2="333.4" y2="139.14"/>
<line x1="46.8" y1="133.36" x2="49.4" y2="133.36"/>
<line x1="336" y1="133.36" x2="333.4" y2="133.36"/>
<line x1="46.8" y1="121.82" x2="49.4" y2="121.82"/>
<line x1="336" y1="121.82" x2="333.4" y2="121.82"/>
<line x1="46.8" y1="116.04" x2="49.4" y2="116.04"/>
<line x1="336" y1="116.04" x2="333.4" y2="116.04"/>
<line x1="46.8" y1="110.27" x2="49.4" y2="110.27"/>
<line x1="336" y1="110.27" x2="333.4" y2="110.27"/>
<line x1="46.8" y1="104.49" x2="49.4" y2="104.49"/>
<line x1="336" y1="104.49" x2="333.4" y2="104.49"/>
<line x1="46.8" y1="92.95" x2="49.4" y2="92.95"/>
<line x1="336" y1="92.95" x2="333.4" y2="92.95"/>
<line x1="46.8" y1="87.17" x2="49.4" y2="87.17"/>
<line x1="336" y1="87.17" x2="333.4" y2="87.17"/>
<line x1="46.8" y1="81.4" x2="49.4" y2="81.4"/>
<line x1="336" y1="81.4" x2="333.4" y2="81.4"/>
<line x1="46.8" y1="75.62" x2="49.4" y2="75.62"/>
<line x1="336" y1="75.62" x2="333.4" y2="75.62"/>
<line x1="46.8" y1="64.08" x2="49.4" y2="64.08"/>
<line x1="336" y1="64.08" x2="333.4" y2="64.08"/>
<line x1="46.8" y1="58.3" x2="49.4" y2="58.3"/>
<line x1="336" y1="58.3" x2="333.4" y2="58.3"/>
<line x1="46.8" y1="52.53" x2="49.4" y2="52.53"/>
<line x1="336" y1="52.53" x2="333.4" y2="52.53"/>
<line x1="46.8" y1="46.75" x2="49.4" y2="46.75"/>
<line x1="336" y1="46.75" x2="333.4" y2="46.75"/>
<line x1="46.8" y1="35.21" x2="49.4" y2="35.21"/>
<line x1="336" y1="35.21" x2="333.4" y2="35.21"/>
<line x1="46.8" y1="29.43" x2="49.4" y2="29.43"/>
<line x1="336" y1="29.43" x2="333.4" y2="29.43"/>
<line x1="46.8" y1="23.66" x2="49.4" y2="23.66"/>
<line x1="336" y1="23.66" x2="333.4" y2="23.66"/>
<line x1="46.8" y1="17.88" x2="49.4" y2="17.88"/>
<line x1="336" y1="17.88" x2="333.4" y2="17.88"/>
<line x1="46.8" y1="6.34" x2="49.4" y2="6.34"/>
<line x1="336" y1="6.34" x2="333.4" y2="6.34"/>
</g>
<rect x="46.8" y="0.4" width="289.2" height="213.7" fill="none" stroke="#000" stroke-width="1.5"/>
<text x="23.31" y="218.25" font-size="12" fill="#000" stroke="#000" stroke-width="0.35">-50</text>
<text x="23.31" y="189.38" font-size="12" fill="#000" stroke="#000" stroke-width="0.35">-40</text>
<text x="23.31" y="160.51" font-size="12" fill="#000" stroke="#000" stroke-width="0.35">-30</text>
<text x="23.31" y="131.64" font-size="12" fill="#000" stroke="#000" stroke-width="0.35">-20</text>
<text x="23.31" y="102.77" font-size="12" fill="#000" stroke="#000" stroke-width="0.35">- 0</text>
<path d="M763,0 L583,0 L583,1147 C540,1106 484,1065 414,1024 C344,983 281,952 223,931 L223,1105 C320,1150 404,1205 476,1268 C548,1331 599,1393 629,1454 L763,1454 Z" transform="translate(27.3,102.77) scale(0.005859,-0.005859)" fill="#000" stroke="#000" stroke-width="0.35" vector-effect="non-scaling-stroke"/>
<text x="33.98" y="73.9" font-size="12" fill="#000" stroke="#000" stroke-width="0.35">0</text>
<text x="27.3" y="45.03" font-size="12" fill="#000" stroke="#000" stroke-width="0.35"> 0</text>
<path d="M763,0 L583,0 L583,1147 C540,1106 484,1065 414,1024 C344,983 281,952 223,931 L223,1105 C320,1150 404,1205 476,1268 C548,1331 599,1393 629,1454 L763,1454 Z" transform="translate(27.3,45.03) scale(0.005859,-0.005859)" fill="#000" stroke="#000" stroke-width="0.35" vector-effect="non-scaling-stroke"/>
<text x="27.3" y="16.16" font-size="12" fill="#000" stroke="#000" stroke-width="0.35">20</text>
<text x="43.56" y="229.9" font-size="12" fill="#000" stroke="#000" stroke-width="0.35">0</text>
<text x="72.5" y="229.9" font-size="12" fill="#000" stroke="#000" stroke-width="0.35">2</text>
<text x="101.44" y="229.9" font-size="12" fill="#000" stroke="#000" stroke-width="0.35">4</text>
<text x="130.38" y="229.9" font-size="12" fill="#000" stroke="#000" stroke-width="0.35">6</text>
<text x="159.32" y="229.9" font-size="12" fill="#000" stroke="#000" stroke-width="0.35">8</text>
<text x="184.93" y="229.9" font-size="12" fill="#000" stroke="#000" stroke-width="0.35"> 0</text>
<path d="M763,0 L583,0 L583,1147 C540,1106 484,1065 414,1024 C344,983 281,952 223,931 L223,1105 C320,1150 404,1205 476,1268 C548,1331 599,1393 629,1454 L763,1454 Z" transform="translate(184.93,229.9) scale(0.005859,-0.005859)" fill="#000" stroke="#000" stroke-width="0.35" vector-effect="non-scaling-stroke"/>
<text x="213.87" y="229.9" font-size="12" fill="#000" stroke="#000" stroke-width="0.35"> 2</text>
<path d="M763,0 L583,0 L583,1147 C540,1106 484,1065 414,1024 C344,983 281,952 223,931 L223,1105 C320,1150 404,1205 476,1268 C548,1331 599,1393 629,1454 L763,1454 Z" transform="translate(213.87,229.9) scale(0.005859,-0.005859)" fill="#000" stroke="#000" stroke-width="0.35" vector-effect="non-scaling-stroke"/>
<text x="242.81" y="229.9" font-size="12" fill="#000" stroke="#000" stroke-width="0.35"> 4</text>
<path d="M763,0 L583,0 L583,1147 C540,1106 484,1065 414,1024 C344,983 281,952 223,931 L223,1105 C320,1150 404,1205 476,1268 C548,1331 599,1393 629,1454 L763,1454 Z" transform="translate(242.81,229.9) scale(0.005859,-0.005859)" fill="#000" stroke="#000" stroke-width="0.35" vector-effect="non-scaling-stroke"/>
<text x="271.75" y="229.9" font-size="12" fill="#000" stroke="#000" stroke-width="0.35"> 6</text>
<path d="M763,0 L583,0 L583,1147 C540,1106 484,1065 414,1024 C344,983 281,952 223,931 L223,1105 C320,1150 404,1205 476,1268 C548,1331 599,1393 629,1454 L763,1454 Z" transform="translate(271.75,229.9) scale(0.005859,-0.005859)" fill="#000" stroke="#000" stroke-width="0.35" vector-effect="non-scaling-stroke"/>
<text x="300.69" y="229.9" font-size="12" fill="#000" stroke="#000" stroke-width="0.35"> 8</text>
<path d="M763,0 L583,0 L583,1147 C540,1106 484,1065 414,1024 C344,983 281,952 223,931 L223,1105 C320,1150 404,1205 476,1268 C548,1331 599,1393 629,1454 L763,1454 Z" transform="translate(300.69,229.9) scale(0.005859,-0.005859)" fill="#000" stroke="#000" stroke-width="0.35" vector-effect="non-scaling-stroke"/>
<text x="329.63" y="229.9" font-size="12" fill="#000" stroke="#000" stroke-width="0.35">20</text>
<text x="54.9" y="17" font-size="12" text-anchor="start" fill="#000" stroke="#000" stroke-width="0.1" font-weight="bold" >(a)</text>
<text x="74.4" y="17" font-size="12" text-anchor="start" fill="#000" stroke="#000" stroke-width="0.35" font-weight="normal" >Time traces <tspan dx="0.5">(</tspan><tspan dx="0.3" font-family="Liberation Serif" font-style="italic" font-size="13.6">τ</tspan><tspan dx="0.6"> = 300 s)</tspan></text>
<text x="125.05" y="45.3" font-size="12" text-anchor="start" fill="#008000" stroke="#008000" stroke-width="0.35" font-weight="normal" >With gain correction by</text>
<text x="125.05" y="59.2" font-size="12" text-anchor="start" fill="#008000" stroke="#008000" stroke-width="0.35" font-weight="normal" >20 Hz reference tone</text>
<text x="86.05" y="156.8" font-size="12" text-anchor="start" fill="#0000ff" stroke="#0000ff" stroke-width="0.35" font-weight="normal" >Without gain correction</text>
<text x="179.2" y="249.3" font-size="12" text-anchor="start" fill="#000" stroke="#000" stroke-width="0.35" font-weight="normal" xml:space="preserve"><tspan font-style="italic">t</tspan>  (d)</text>
<text transform="translate(9.2,106.6) rotate(-90)" stroke="#000" stroke-width="0.35" font-size="12.2" text-anchor="middle" xml:space="preserve">Δ<tspan font-style="italic">G</tspan><tspan font-size="8.5" dy="2.5">0</tspan><tspan dy="-2.5">/</tspan><tspan font-style="italic">G</tspan><tspan font-size="8.5" dy="2.5">0</tspan><tspan dy="-2.5">  (μV/V)</tspan></text>
<g stroke="#b4b4b4" stroke-width="0.85" stroke-dasharray="3 2.2" fill="none">
<line x1="66.94" y1="259.3" x2="66.94" y2="461.4"/>
<line x1="78.79" y1="259.3" x2="78.79" y2="461.4"/>
<line x1="87.19" y1="259.3" x2="87.19" y2="461.4"/>
<line x1="93.71" y1="259.3" x2="93.71" y2="461.4"/>
<line x1="99.03" y1="259.3" x2="99.03" y2="461.4"/>
<line x1="103.53" y1="259.3" x2="103.53" y2="461.4"/>
<line x1="107.43" y1="259.3" x2="107.43" y2="461.4"/>
<line x1="110.87" y1="259.3" x2="110.87" y2="461.4"/>
<line x1="134.19" y1="259.3" x2="134.19" y2="461.4"/>
<line x1="146.04" y1="259.3" x2="146.04" y2="461.4"/>
<line x1="154.44" y1="259.3" x2="154.44" y2="461.4"/>
<line x1="160.96" y1="259.3" x2="160.96" y2="461.4"/>
<line x1="166.28" y1="259.3" x2="166.28" y2="461.4"/>
<line x1="170.78" y1="259.3" x2="170.78" y2="461.4"/>
<line x1="174.68" y1="259.3" x2="174.68" y2="461.4"/>
<line x1="178.12" y1="259.3" x2="178.12" y2="461.4"/>
<line x1="201.44" y1="259.3" x2="201.44" y2="461.4"/>
<line x1="213.29" y1="259.3" x2="213.29" y2="461.4"/>
<line x1="221.69" y1="259.3" x2="221.69" y2="461.4"/>
<line x1="228.21" y1="259.3" x2="228.21" y2="461.4"/>
<line x1="233.53" y1="259.3" x2="233.53" y2="461.4"/>
<line x1="238.03" y1="259.3" x2="238.03" y2="461.4"/>
<line x1="241.93" y1="259.3" x2="241.93" y2="461.4"/>
<line x1="245.37" y1="259.3" x2="245.37" y2="461.4"/>
<line x1="268.69" y1="259.3" x2="268.69" y2="461.4"/>
<line x1="280.54" y1="259.3" x2="280.54" y2="461.4"/>
<line x1="288.94" y1="259.3" x2="288.94" y2="461.4"/>
<line x1="295.46" y1="259.3" x2="295.46" y2="461.4"/>
<line x1="300.78" y1="259.3" x2="300.78" y2="461.4"/>
<line x1="305.28" y1="259.3" x2="305.28" y2="461.4"/>
<line x1="309.18" y1="259.3" x2="309.18" y2="461.4"/>
<line x1="312.62" y1="259.3" x2="312.62" y2="461.4"/>
<line x1="46.8" y1="441.25" x2="335.9" y2="441.25"/>
<line x1="46.8" y1="429.35" x2="335.9" y2="429.35"/>
<line x1="46.8" y1="420.9" x2="335.9" y2="420.9"/>
<line x1="46.8" y1="414.35" x2="335.9" y2="414.35"/>
<line x1="46.8" y1="409" x2="335.9" y2="409"/>
<line x1="46.8" y1="404.47" x2="335.9" y2="404.47"/>
<line x1="46.8" y1="400.55" x2="335.9" y2="400.55"/>
<line x1="46.8" y1="397.09" x2="335.9" y2="397.09"/>
<line x1="46.8" y1="373.65" x2="335.9" y2="373.65"/>
<line x1="46.8" y1="361.75" x2="335.9" y2="361.75"/>
<line x1="46.8" y1="353.3" x2="335.9" y2="353.3"/>
<line x1="46.8" y1="346.75" x2="335.9" y2="346.75"/>
<line x1="46.8" y1="341.4" x2="335.9" y2="341.4"/>
<line x1="46.8" y1="336.87" x2="335.9" y2="336.87"/>
<line x1="46.8" y1="332.95" x2="335.9" y2="332.95"/>
<line x1="46.8" y1="329.49" x2="335.9" y2="329.49"/>
<line x1="46.8" y1="306.05" x2="335.9" y2="306.05"/>
<line x1="46.8" y1="294.15" x2="335.9" y2="294.15"/>
<line x1="46.8" y1="285.7" x2="335.9" y2="285.7"/>
<line x1="46.8" y1="279.15" x2="335.9" y2="279.15"/>
<line x1="46.8" y1="273.8" x2="335.9" y2="273.8"/>
<line x1="46.8" y1="269.27" x2="335.9" y2="269.27"/>
<line x1="46.8" y1="265.35" x2="335.9" y2="265.35"/>
<line x1="46.8" y1="261.89" x2="335.9" y2="261.89"/>
</g>
<g stroke="#777777" stroke-width="0.85" fill="none">
<line x1="113.95" y1="259.3" x2="113.95" y2="461.4"/>
<line x1="181.2" y1="259.3" x2="181.2" y2="461.4"/>
<line x1="248.45" y1="259.3" x2="248.45" y2="461.4"/>
<line x1="315.7" y1="259.3" x2="315.7" y2="461.4"/>
<line x1="46.8" y1="394" x2="335.9" y2="394"/>
<line x1="46.8" y1="326.4" x2="335.9" y2="326.4"/>
</g>
<g fill="#fff">
<rect x="53" y="266" width="103" height="17"/>
<rect x="84.5" y="310" width="125" height="14"/>
<rect x="123" y="412" width="125" height="28"/>
</g>
<line x1="46.5" y1="319.9" x2="228.4" y2="410.9" stroke="#ff0000" stroke-width="1.5" />
<path d="M50.8,317.6 L51.25,317.74 L51.7,317.88 L52.15,318.03 L52.6,318.17 L53.05,318.31 L53.5,318.45 L53.95,318.59 L54.4,318.73 L54.85,318.88 L55.3,319.02 L55.75,319.16 L56.2,319.3 L56.65,319.44 L57.1,319.59 L57.55,319.73 L58,319.87 L58.45,320.01 L58.9,320.15 L59.35,320.3 L59.8,320.44 L60.25,320.57 L60.7,320.71 L61.15,320.84 L61.6,320.98 L62.05,321.11 L62.5,321.24 L62.95,321.38 L63.4,321.51 L63.85,321.65 L64.3,321.78 L64.75,321.91 L65.2,322.05 L65.65,322.18 L66.1,322.32 L66.55,322.45 L67,322.59 L67.45,322.72 L67.9,322.85 L68.35,322.99 L68.8,323.12 L69.25,323.26 L69.7,323.38 L70.15,323.51 L70.6,323.64 L71.05,323.77 L71.5,323.89 L71.95,324.02 L72.4,324.15 L72.85,324.27 L73.3,324.4 L73.75,324.53 L74.2,324.65 L74.65,324.78 L75.1,324.91 L75.55,325.03 L76,325.16 L76.45,325.29 L76.9,325.42 L77.35,325.54 L77.8,325.67 L78.25,325.8 L78.7,325.92 L79.15,326.05 L79.6,326.18 L80.05,326.3 L80.5,326.43 L80.95,326.56 L81.4,326.67 L81.85,326.77 L82.3,326.87 L82.75,326.97 L83.2,327.07 L83.65,327.17 L84.1,327.27 L84.55,327.37 L85,327.47 L85.45,327.57 L85.9,327.67 L86.35,327.77 L86.8,327.87 L87.25,327.97 L87.7,328.07 L88.15,328.17 L88.6,328.27 L89.05,328.37 L89.5,328.47 L89.95,328.57 L90.4,328.67 L90.85,328.77 L91.3,328.87 L91.75,328.97 L92.2,329.07 L92.65,329.17 L93.1,329.25 L93.55,329.33 L94,329.42 L94.45,329.5 L94.9,329.58 L95.35,329.66 L95.8,329.74 L96.25,329.82 L96.7,329.9 L97.15,329.98 L97.6,330.06 L98.05,330.14 L98.5,330.22 L98.95,330.3 L99.4,330.38 L99.85,330.47 L100.3,330.55 L100.75,330.63 L101.2,330.71 L101.65,330.79 L102.1,330.87 L102.55,330.95 L103,331.03 L103.45,331.11 L103.9,331.19 L104.35,331.27 L104.8,331.34 L105.25,331.39 L105.7,331.44 L106.15,331.5 L106.6,331.55 L107.05,331.61 L107.5,331.66 L107.95,331.71 L108.4,331.77 L108.85,331.82 L109.3,331.87 L109.75,331.93 L110.2,331.98 L110.65,332.04 L111.1,332.09 L111.55,332.14 L112,332.2 L112.45,332.25 L112.9,332.31 L113.35,332.36 L113.8,332.41 L114.25,332.47 L114.7,332.52 L115.15,332.57 L115.6,332.63 L116.05,332.68 L116.5,332.72 L116.95,332.74 L117.4,332.76 L117.85,332.78 L118.3,332.81 L118.75,332.83 L119.2,332.85 L119.65,332.88 L120.1,332.9 L120.55,332.92 L121,332.94 L121.45,332.97 L121.9,332.99 L122.35,333.01 L122.8,333.04 L123.25,333.06 L123.7,333.08 L124.15,333.11 L124.6,333.13 L125.05,333.15 L125.5,333.17 L125.95,333.17 L126.4,333.19 L126.85,333.22 L127.3,333.17 L127.75,333.22 L128.2,333.13 L128.65,333.21 L129.1,333.29 L129.55,333.21 L130,333.29 L130.45,333.09 L130.9,333.37 L131.35,333.08 L131.8,333.44 L132.25,333.49 L132.7,333.48 L133.15,333.27 L133.6,333.14 L134.05,333.17 L134.5,333.42 L134.95,333.27 L135.4,333.57 L135.85,332.98 L136.3,333.27 L136.75,333.57 L137.2,333.37 L137.65,333.32 L138.1,332.93 L138.55,332.97 L139,333.09 L139.45,333.67 L139.9,333.63 L140.35,333.01 L140.8,333.73 L141.25,332.77 L141.7,333.38 L142.15,333.8 L142.6,333.08 L143.05,333.79 L143.5,333.45 L143.95,332.68 L144.4,333.03 L144.85,333.17 L145.3,332.89 L145.75,333.56 L146.2,332.77 L146.65,333.63 L147.1,332.92 L147.55,332.56 L148,333.3 L148.45,332.57 L148.9,333.28 L149.35,333.66 L149.8,333.34 L150.25,333.12 L150.7,332.38 L151.15,333.2 L151.6,332.45 L152.05,333.43 L152.5,332.48 L152.95,333.3 L153.4,332.87 L153.85,332.9 L154.3,333.46 L154.75,332.47 L155.2,332.46 L155.65,334.03 L156.1,332.77 L156.55,333.84 L157,333.91 L157.45,333.06 L157.9,332.33 L158.35,332.18 L158.8,333.92 L159.25,332.17 L159.7,333.02 L160.15,333.09 L160.6,332.08 L161.05,332.89 L161.5,332.14 L161.95,333.02 L162.4,332.93 L162.85,332.56 L163.3,332.11 L163.75,332.61 L164.2,332.06 L164.65,331.83 L165.1,332.11 L165.55,333.79 L166,332.77 L166.45,333.82 L166.9,331.37 L167.35,333.96 L167.8,332.65 L168.25,333.51 L168.7,332.85 L169.15,333.19 L169.6,331.81 L170.05,333.34 L170.5,331.52 L170.95,331.83 L171.4,331.08 L171.85,332.18 L172.3,332.56 L172.75,331.82 L173.2,333.71 L173.65,331.09 L174.1,332.68 L174.55,331.52 L175,332.7 L175.45,333.32 L175.9,333.06 L176.35,330.83 L176.8,331.43 L177.25,332.62 L177.7,333.92 L178.15,330.55 L178.6,332.54 L179.05,332.76 L179.5,333.16 L179.95,331.39 L180.4,333.06 L180.85,331.72 L181.3,333.4 L181.75,329.91 L182.2,333.39 L182.65,331.33 L183.1,331.26 L183.55,330 L184,330.54 L184.45,332.35 L184.9,332.09 L185.35,330.03 L185.8,330.71 L186.25,329.88 L186.7,330.04 L187.15,330.06 L187.6,330.43 L188.05,332.82 L188.5,332.85 L188.95,332.01 L189.4,330.77 L189.85,330.78 L190.3,331.79 L190.75,332.22 L191.2,331.57 L191.65,331.08 L192.1,329.36 L192.55,330.92 L193,331.7 L193.45,331.42 L193.9,328.72 L194.35,331.04 L194.8,329.59 L195.25,328.82 L195.7,331.81 L196.15,330.64 L196.6,330.86 L197.05,328.49 L197.5,331.06 L197.95,331.42 L198.4,331.24 L198.85,330.58 L199.3,330.85 L199.75,330.68 L200.2,329.82 L200.65,329.18 L201.1,330.61 L201.55,330.41 L202,330.69 L202.45,328.47 L202.9,330.93 L203.35,329.25 L203.8,330.78 L204.25,327.57 L204.7,330.76 L205.15,330.03 L205.6,327.94 L206.05,330.12 L206.5,327.77 L206.95,327.59 L207.4,328.53 L207.85,327.64 L208.3,328.56 L208.75,330.09 L209.2,329.19 L209.65,329.24 L210.1,327.98 L210.55,329.42 L211,329.41 L211.45,328.94 L211.9,329.87 L212.35,329.38 L212.8,327.74 L213.25,326.47 L213.7,328.57 L214.15,329.22 L214.6,327.28 L215.05,328.2 L215.5,329.07 L215.95,328.86 L216.4,325.81 L216.85,327.6 L217.3,325.76 L217.75,326.07 L218.2,328.69 L218.65,327.14 L219.1,327.8 L219.55,327.19 L220,326.67 L220.45,326.14 L220.9,326.6 L221.35,328.4 L221.8,327.47 L222.25,326.16 L222.7,325.31 L223.15,325.94 L223.6,327.5 L224.05,326.45 L224.5,327.21 L224.95,327.69 L225.4,325.01 L225.85,327.08 L226.3,324.57 L226.75,327.47 L227.2,324.97 L227.65,325.24 L228.1,327.77 L228.55,325.44 L229,324.85 L229.45,327.3 L229.9,326.17 L230.35,327.18 L230.8,325.21 L231.25,325.54 L231.7,327.2 L232.15,325.43 L232.6,327.19 L233.05,324.08 L233.5,326.45 L233.95,323.84 L234.4,325.15 L234.85,323.08 L235.3,323.68 L235.75,326.53" fill="none" stroke="#0000ff" stroke-width="1.15" stroke-linejoin="round"/>
<path d="M139,333.26 L139.5,333.6 L140,333.08 L140.5,333.18 L141,332.93 L141.5,333.41 L142,333.77 L142.5,333.39 L143,333.24 L143.5,333.93 L144,333.91 L144.5,333.64 L145,332.85 L145.5,333.61 L146,333.37 L146.5,334.14 L147,333.26 L147.5,333.73 L148,333.7 L148.5,333.3 L149,333.55 L149.5,333.82 L150,334.25 L150.5,333.54 L151,333.3 L151.5,334.46 L152,332.72 L152.5,334.24 L153,333.96 L153.5,333.72 L154,333.51 L154.5,334.16 L155,334.48 L155.5,334.15 L156,334.22 L156.5,332.61 L157,333.27 L157.5,332.83 L158,334.79 L158.5,334.63 L159,332.78 L159.5,333.86 L160,333.81 L160.5,332.42 L161,333.29 L161.5,334.22 L162,333.92 L162.5,332.91 L163,334.22 L163.5,332.88 L164,333.57 L164.5,333.19 L165,334.82 L165.5,333.83 L166,334.29 L166.5,333.89 L167,332.95 L167.5,334.76 L168,333.95 L168.5,333.88 L169,332.51 L169.5,332.09 L170,333.45 L170.5,334.28 L171,334.16 L171.5,332.6 L172,331.84 L172.5,333.15 L173,334.43 L173.5,331.82 L174,333.9 L174.5,331.78 L175,332.28 L175.5,331.27 L176,332.17 L176.5,332.47 L177,334.73 L177.5,334.67 L178,331.54 L178.5,331.97 L179,334.45 L179.5,331.41 L180,331.85 L180.5,332.26 L181,330.88 L181.5,331.43 L182,331.91 L182.5,331.82 L183,334.08 L183.5,331.24 L184,330.93 L184.5,333.69 L185,331.8 L185.5,333.29 L186,332.42 L186.5,332.92 L187,331.01 L187.5,330.29 L188,332.65 L188.5,331.44 L189,331.73 L189.5,332.11 L190,332.38 L190.5,330.4 L191,330.69 L191.5,332.85 L192,331.23 L192.5,330.2 L193,331.51 L193.5,329.96 L194,331.95 L194.5,328.96 L195,332.04 L195.5,330.94 L196,330.02 L196.5,332.3 L197,329.54 L197.5,329.39 L198,328.63 L198.5,330.48 L199,331.24 L199.5,330.88 L200,329.75 L200.5,331.28 L201,328.44 L201.5,329.16 L202,330.46 L202.5,331.69 L203,330.31 L203.5,330.48 L204,330.76 L204.5,329.18 L205,331.31 L205.5,330.46 L206,328.81 L206.5,328.96 L207,330.55 L207.5,328.67 L208,327.96 L208.5,330.65 L209,329.24 L209.5,329.14 L210,329.68 L210.5,330.55 L211,327.42 L211.5,328.19 L212,327.04 L212.5,328.38 L213,328.68 L213.5,330.02 L214,329.23 L214.5,328.82 L215,328.06 L215.5,328.69 L216,327.44 L216.5,329.66 L217,329.38 L217.5,329.53 L218,326.72 L218.5,328.75 L219,329.03 L219.5,327.96 L220,329.49 L220.5,329.42 L221,328.72 L221.5,328.95 L222,328.18 L222.5,329.02 L223,325.96 L223.5,328.17 L224,328.09 L224.5,327.65 L225,326.22 L225.5,325.31 L226,327.38 L226.5,328.18 L227,325.9 L227.5,325.58 L228,325.55 L228.5,324.95 L229,327.2 L229.5,328.31 L230,327.55 L230.5,325.7 L231,326.98 L231.5,324.39 L232,327.38 L232.5,325.25 L233,323.88 L233.5,326.31 L234,324.27 L234.5,324.73 L235,323.79 L235.5,325.26 L236,325.62" fill="none" stroke="#0000ff" stroke-width="1.0" stroke-linejoin="round"/>
<path d="M228,325.94 L228.5,323.94 L229,325.67 L229.5,323.79 L230,323.9 L230.5,324.72 L231,323.86 L231.5,323.68 L232,324.09 L232.5,323.09 L233,324.31 L233.5,322.75 L234,324.11 L234.5,323.87 L235,323.06 L235.5,321.69 L236,323.32 L236.5,321.36 L237,322.27 L237.5,321.74 L238,320.53 L238.5,321.55 L239,321.44 L239.5,320.76 L240,319.98 L240.5,319.91 L241,319.75 L241.5,318.52 L242,319.68 L242.5,319.6 L243,318.76 L243.5,318.76 L244,316.87 L244.5,318.17 L245,315.72 L245.5,316.45 L246,315.37 L246.5,315.89 L247,316.19 L247.5,316 L248,315.14 L248.5,314.62 L249,313.89 L249.5,314.04 L250,313.39 L250.5,312.82 L251,313.76 L251.5,312.84 L252,312.13 L252.5,311.04 L253,311.73 L253.5,310 L254,309.65 L254.5,309.89 L255,309.85 L255.5,310.12 L256,309.2 L256.5,309.31 L257,308.86 L257.5,308.04 L258,307.72 L258.5,305.82 L259,305.85 L259.5,305.03 L260,306.57 L260.5,305.73 L261,305.01 L261.5,303.63 L262,303.81 L262.5,303.44 L263,303.8 L263.5,304.04 L264,303.11 L264.5,302.64 L265,302.61 L265.5,302.62 L266,303.04 L266.5,302.78 L267,302.23 L267.5,301.69 L268,301.53 L268.5,301.25 L269,301.49 L269.5,300.71 L270,300.84 L270.5,299.49 L271,298.1 L271.5,296.49 L272,295.61 L272.5,294.4 L273,294.14 L273.5,294.4 L274,294.1 L274.5,294.53 L275,295.98 L275.5,296.68 L276,297.92 L276.5,297.96 L277,298.48 L277.5,298.68 L278,297.82 L278.5,297.88 L279,297.23 L279.5,297.44 L280,294.83 L280.5,291.4 L281,291.03 L281.5,291.01 L282,291.18 L282.5,290.71 L283,290 L283.5,290.57 L284,290.2 L284.5,289.51 L285,288.72 L285.5,289.32 L286,287.48 L286.5,283.82 L287,282.01 L287.5,281.84 L288,281.62 L288.5,280.68 L289,280.44 L289.5,279.92 L290,279.91 L290.5,280.59 L291,279.97 L291.5,279.61 L292,280.1 L292.5,279.56 L293,279.61 L293.5,279.86 L294,279.97 L294.5,280 L295,280.05 L295.5,277.93 L296,273.02 L296.5,270.99 L297,270.11 L297.5,270.42 L298,270.2 L298.5,270.44 L299,270.74 L299.5,270.46 L300,271.16 L300.5,271.46 L301,271.47 L301.5,271.36 L302,272.39 L302.5,272.23 L303,271.82 L303.5,272.19 L304,273.19 L304.5,272.53 L305,272.82 L305.5,273.32 L306,273.42 L306.5,273.27 L307,273.45 L307.5,272.74" fill="none" stroke="#0000ff" stroke-width="1.15" stroke-linejoin="round"/>
<path d="M228,326.53 L228.5,328.58 L229,328.1 L229.5,326.2 L230,326.16 L230.5,326.56 L231,328.15 L231.5,326.38 L232,327.4 L232.5,327.96 L233,327.19 L233.5,327.8 L234,326.16 L234.5,325.83 L235,325.45 L235.5,327.16 L236,325.52 L236.5,327.55 L237,326.85 L237.5,325.53 L238,326.95 L238.5,325.34 L239,326.12 L239.5,325.08 L240,326.54 L240.5,326.54 L241,326.35 L241.5,323.91 L242,325.69 L242.5,324.73 L243,325.12 L243.5,324.11 L244,324.14 L244.5,323.83 L245,324.07 L245.5,322.09 L246,322.03 L246.5,323.21 L247,322.6 L247.5,322.85 L248,321.92 L248.5,323.69 L249,321.96 L249.5,323.89 L250,323.83 L250.5,322.9 L251,322.02 L251.5,323.21 L252,322.06 L252.5,322.52 L253,321.67 L253.5,323.67 L254,322.56 L254.5,321.89 L255,320.89 L255.5,322.04 L256,321.95 L256.5,321.57 L257,319.4 L257.5,319.78 L258,319.45 L258.5,320.39 L259,318.74 L259.5,319.67 L260,320.39 L260.5,319.72 L261,317.72 L261.5,317.71 L262,318.02 L262.5,318.66 L263,318.36 L263.5,318.08 L264,317.82 L264.5,317.58 L265,317.7 L265.5,317.58 L266,317.78 L266.5,317.39 L267,317.34 L267.5,317.37 L268,317.12 L268.5,316.82 L269,315.72 L269.5,316.49 L270,316.59 L270.5,315.49 L271,315.61 L271.5,314.12 L272,314.67 L272.5,313.46 L273,313.32 L273.5,312.17 L274,311.73 L274.5,311.37 L275,310.96 L275.5,310.27 L276,310.39 L276.5,310.78 L277,309.95 L277.5,309.97 L278,309.36 L278.5,309.11 L279,309 L279.5,308.33 L280,307.33 L280.5,306.97 L281,306.87 L281.5,305.99 L282,306.01 L282.5,306.67 L283,306.46 L283.5,305.36 L284,305.78 L284.5,305.63 L285,305.63 L285.5,305.33 L286,304.8 L286.5,304.04 L287,304.82 L287.5,303.78 L288,303.89 L288.5,303.2 L289,303.11 L289.5,303.38 L290,301.93 L290.5,301.94 L291,301.61 L291.5,300.95 L292,301.01 L292.5,300.36 L293,301.31 L293.5,301.23 L294,301.86 L294.5,300.63 L295,300.65 L295.5,300.6 L296,301.31 L296.5,299.9 L297,300.09 L297.5,300.6 L298,300.99 L298.5,299.85 L299,300.21 L299.5,300.56 L300,300.57 L300.5,300.64 L301,300.65 L301.5,299.95 L302,299.16 L302.5,297.84 L303,297.77 L303.5,296.09 L304,295.66 L304.5,296.47 L305,295.84 L305.5,295.59 L306,295.5 L306.5,295.24 L307,295.47 L307.5,295.43 L308,295.59 L308.5,296.09 L309,296.37 L309.5,296.63 L310,296.1 L310.5,295.83 L311,296.14 L311.5,294.2 L312,290.6 L312.5,289.19 L313,289.65 L313.5,288.58 L314,288.24 L314.5,288.42 L315,288.57 L315.5,288.97 L316,288.62 L316.5,289.02 L317,288.13 L317.5,289.27 L318,288.27 L318.5,288.77 L319,287.48 L319.5,288.42 L320,287.39 L320.5,288.1 L321,287.52 L321.5,286.84 L322,285.79 L322.5,284.91" fill="none" stroke="#0000ff" stroke-width="1.15" stroke-linejoin="round"/>
<path d="M51,322.23 L51.4,322.7 L51.8,322.6 L52.2,322.99 L52.6,323.15 L53,323.37 L53.4,323.37 L53.8,323.55 L54.2,323.72 L54.6,324.26 L55,324.21 L55.4,324.51 L55.8,324.67 L56.2,324.72 L56.6,324.85 L57,325.02 L57.4,325.55 L57.8,325.45 L58.2,325.98 L58.6,325.93 L59,326.26 L59.4,326.22 L59.8,326.67 L60.2,326.65 L60.6,326.9 L61,327.16 L61.4,327.19 L61.8,327.45 L62.2,327.87 L62.6,327.86 L63,328.1 L63.4,328.46 L63.8,328.44 L64.2,328.63 L64.6,328.84 L65,329.1 L65.4,329.3 L65.8,329.61 L66.2,329.74 L66.6,330.1 L67,329.97 L67.4,330.42 L67.8,330.68 L68.2,330.64 L68.6,330.76 L69,331.13 L69.4,331.2 L69.8,331.53 L70.2,331.83 L70.6,331.79 L71,332 L71.4,332.34 L71.8,332.42 L72.2,332.64 L72.6,332.93 L73,333 L73.4,333.18 L73.8,333.49 L74.2,333.74 L74.6,334.12 L75,334.17 L75.4,334.18 L75.8,334.44 L76.2,334.85 L76.6,334.98 L77,335.3 L77.4,335.53 L77.8,335.69 L78.2,335.59 L78.6,336.13 L79,336.16 L79.4,336.25 L79.8,336.42 L80.2,336.9 L80.6,336.83 L81,336.98 L81.4,337.26 L81.8,337.72 L82.2,337.73 L82.6,338.04 L83,337.98 L83.4,338.33 L83.8,338.48 L84.2,338.63 L84.6,339.02 L85,339.09 L85.4,339.2 L85.8,339.74 L86.2,339.74 L86.6,339.82 L87,339.95 L87.4,340.41 L87.8,340.56 L88.2,340.56 L88.6,340.94 L89,341.25 L89.4,341.36 L89.8,341.44 L90.2,341.75 L90.6,341.99 L91,342.21 L91.4,342.21 L91.8,342.67 L92.2,342.93 L92.6,343.05 L93,343.29 L93.4,343.3 L93.8,343.71 L94.2,343.62 L94.6,343.84 L95,344.19 L95.4,344.51 L95.8,344.38 L96.2,344.64 L96.6,344.76 L97,345.13 L97.4,345.21 L97.8,345.43 L98.2,345.85 L98.6,345.98 L99,346.33 L99.4,346.31 L99.8,346.62 L100.2,346.56 L100.6,347.13 L101,347.04 L101.4,347.34 L101.8,347.55 L102.2,347.93 L102.6,347.95 L103,348.35 L103.4,348.4 L103.8,348.44 L104.2,348.88 L104.6,348.83 L105,349.35 L105.4,349.33 L105.8,349.44 L106.2,349.93 L106.6,349.88 L107,350.11 L107.4,350.29 L107.8,350.62 L108.2,350.56 L108.6,350.9 L109,351.01 L109.4,351.48 L109.8,351.35 L110.2,351.79 L110.6,351.85 L111,352.13 L111.4,352.37 L111.8,352.63 L112.2,352.61 L112.6,352.85 L113,353 L113.4,353.53 L113.8,353.41 L114.2,353.6 L114.6,353.96 L115,354.18 L115.4,354.52 L115.8,354.35 L116.2,354.62 L116.6,354.78 L117,355.2 L117.4,355.32 L117.8,355.5 L118.2,355.99 L118.6,356.06 L119,356.4 L119.4,356.68 L119.8,356.38 L120.2,357.06 L120.6,356.79 L121,356.64 L121.4,357.51 L121.8,356.95 L122.2,357.01 L122.6,357.4 L123,357.53 L123.4,358.35 L123.8,358.41 L124.2,358.09 L124.6,358.35 L125,358.85 L125.4,358.96 L125.8,358.93 L126.2,358.92 L126.6,358.57 L127,358.87 L127.4,359.54 L127.8,359.59 L128.2,360.03 L128.6,360.32 L129,360.56 L129.4,359.62 L129.8,359.59 L130.2,360.94 L130.6,360.6 L131,360.15 L131.4,361.09 L131.8,360.54 L132.2,360.65 L132.6,361 L133,361.41 L133.4,361.82 L133.8,360.91 L134.2,362.23 L134.6,362.17 L135,362.04 L135.4,362.56 L135.8,362.95 L136.2,361.59 L136.6,362.63 L137,363.17 L137.4,363.38 L137.8,363.4 L138.2,362.57 L138.6,364.32 L139,364.1 L139.4,363.06 L139.8,363.61 L140.2,364.9 L140.6,363.37 L141,363.95 L141.4,365.35 L141.8,365.35 L142.2,363.93 L142.6,365.25 L143,364.49 L143.4,365.35 L143.8,365.74 L144.2,364.29 L144.6,364.66 L145,364.76 L145.4,365.02 L145.8,364.54 L146.2,364.93 L146.6,365.77 L147,365.94 L147.4,365.14 L147.8,366.64 L148.2,367.77 L148.6,366.89 L149,366.4 L149.4,367.53 L149.8,366.9 L150.2,366.26 L150.6,367.29 L151,366.04 L151.4,368.13 L151.8,366.71 L152.2,367.47 L152.6,369.43 L153,368.97 L153.4,369.32 L153.8,368.85 L154.2,368.97 L154.6,369.33 L155,370.32 L155.4,368 L155.8,370.07 L156.2,368.71 L156.6,368.75 L157,370.86 L157.4,370.31 L157.8,371.36 L158.2,371.65 L158.6,370.85 L159,369.66 L159.4,369.19 L159.8,371.24 L160.2,372.13 L160.6,370.67 L161,370.11 L161.4,370.05 L161.8,370.86 L162.2,373.02 L162.6,370.59 L163,371.63 L163.4,371.95 L163.8,373.87 L164.2,375.15 L164.6,371.54 L165,372.1 L165.4,375.56 L165.8,375.91 L166.2,372.78 L166.6,373.73 L167,374.69 L167.4,374.04 L167.8,374.64 L168.2,375.09 L168.6,374.35 L169,373.67 L169.4,373.97 L169.8,374.49 L170.2,374.37 L170.6,376.88 L171,377.39 L171.4,375.67 L171.8,378.21 L172.2,378.13 L172.6,376.59 L173,377.49 L173.4,376.32 L173.8,379.94 L174.2,378.47 L174.6,376.33 L175,377.02 L175.4,379.77 L175.8,378.54 L176.2,380.3 L176.6,378.1 L177,380.96 L177.4,381.13 L177.8,377.81 L178.2,380.35 L178.6,378.53 L179,381.22 L179.4,381.84 L179.8,381.92 L180.2,379.23 L180.6,378.65 L181,381.68 L181.4,381.32 L181.8,379.24 L182.2,379.65 L182.6,381.81 L183,379.45 L183.4,382.35 L183.8,380.4 L184.2,380.61 L184.6,381.63 L185,382.35 L185.4,383.52 L185.8,379.9 L186.2,383.86 L186.6,381.25 L187,381.79 L187.4,383.9 L187.8,384.35 L188.2,384.09 L188.6,385.86 L189,382.12 L189.4,382.88 L189.8,385.01 L190.2,382.92 L190.6,382.51 L191,383.06 L191.4,386.27 L191.8,386.75 L192.2,386.29 L192.6,387.81 L193,387.05 L193.4,384.5 L193.8,384.7 L194.2,387.13 L194.6,383.57 L195,386.82 L195.4,384.05 L195.8,383.97 L196.2,386.71 L196.6,384.82 L197,389.33 L197.4,389.17 L197.8,386.99 L198.2,385.65 L198.6,385.35 L199,387.66 L199.4,387.89 L199.8,387.14 L200.2,389.26 L200.6,388.36 L201,389.88 L201.4,386.27 L201.8,386.21 L202.2,388.13 L202.6,388.81 L203,387.66 L203.4,390.13 L203.8,387.77" fill="none" stroke="#008000" stroke-width="1.2" stroke-linejoin="round"/>
<path d="M137.5,362.88 L137.95,363.13 L138.4,363.45 L138.85,363.65 L139.3,363.5 L139.75,363.7 L140.2,364.26 L140.65,364.43 L141.1,364.3 L141.55,363.96 L142,364.45 L142.45,364.78 L142.9,364.55 L143.35,364.43 L143.8,365.64 L144.25,365.72 L144.7,364.94 L145.15,365.49 L145.6,365.84 L146.05,365.57 L146.5,365.4 L146.95,366.48 L147.4,366.67 L147.85,366.34 L148.3,365.96 L148.75,366.57 L149.2,366.24 L149.65,367.77 L150.1,366.44 L150.55,366.97 L151,367.94 L151.45,366.98 L151.9,367.07 L152.35,367.14 L152.8,367.44 L153.25,368.28 L153.7,369.01 L154.15,367.87 L154.6,368.01 L155.05,369.37 L155.5,368.89 L155.95,368.92 L156.4,368.67 L156.85,369.13 L157.3,370.96 L157.75,369.26 L158.2,369.79 L158.65,371.12 L159.1,371.71 L159.55,371.97 L160,371.15 L160.45,372.56 L160.9,371.91 L161.35,371.33 L161.8,371.99 L162.25,372.87 L162.7,373.14 L163.15,371.74 L163.6,372.12 L164.05,374.44 L164.5,372.29 L164.95,374.49 L165.4,373.36 L165.85,373.31 L166.3,373.54 L166.75,374.38 L167.2,376.17 L167.65,373.84 L168.1,376.22 L168.55,374.79 L169,374.53 L169.45,376.56 L169.9,375.48 L170.35,375.19 L170.8,376.16 L171.25,377.72 L171.7,378.09 L172.15,377.34 L172.6,375.61 L173.05,378.47 L173.5,378.18 L173.95,379.47 L174.4,379.93 L174.85,377.93 L175.3,380.09 L175.75,380.24 L176.2,378.39 L176.65,378.91 L177.1,379.09 L177.55,379.15 L178,379.39 L178.45,378.48 L178.9,379.08 L179.35,381.94 L179.8,380.09 L180.25,381.15 L180.7,382.34 L181.15,381.95 L181.6,379.98 L182.05,382.96 L182.5,382.63 L182.95,383.59 L183.4,382.62 L183.85,382.9 L184.3,383.31 L184.75,380.99 L185.2,382.93 L185.65,381.87 L186.1,384.12 L186.55,381.1 L187,383.13 L187.45,382.38 L187.9,384.82 L188.35,382.78 L188.8,385.32 L189.25,385.54 L189.7,385.88 L190.15,382.49 L190.6,386.57 L191.05,385.81 L191.5,385.67 L191.95,385.74 L192.4,382.89 L192.85,387.22 L193.3,385.77 L193.75,385.48 L194.2,385.06 L194.65,387.55 L195.1,387.71 L195.55,388.32 L196,385.07 L196.45,385.89 L196.9,385.58 L197.35,384.96 L197.8,386.3 L198.25,384.89 L198.7,389.06 L199.15,386.26 L199.6,385.61 L200.05,385.75 L200.5,389.41 L200.95,386.75 L201.4,388.28 L201.85,388.13 L202.3,390.37 L202.75,391.32 L203.2,388.13 L203.65,389.96" fill="none" stroke="#008000" stroke-width="1.0" stroke-linejoin="round"/>
<path d="M200,390.09 L200.4,388.26 L200.8,387.06 L201.2,389.87 L201.6,387.14 L202,386.22 L202.4,385.07 L202.8,387.64 L203.2,388 L203.6,389.28 L204,390.55 L204.4,392.39 L204.8,388.43 L205.2,389.08 L205.6,386.97 L206,387.04 L206.4,388.89 L206.8,390.8 L207.2,392.58 L207.6,387.8 L208,387.27 L208.4,385.37 L208.8,385.73 L209.2,389.85 L209.6,386.92 L210,389.02 L210.4,391.27 L210.8,389.88 L211.2,392.03 L211.6,390.32 L212,387.22 L212.4,390.59 L212.8,388.03 L213.2,389.21 L213.6,386.49 L214,387.31 L214.4,386.88 L214.8,386.61 L215.2,387.93 L215.6,390.21 L216,388.84 L216.4,389.73 L216.8,389.18 L217.2,387.07 L217.6,387.91 L218,389.36 L218.4,390.37 L218.8,392.42 L219.2,390.41 L219.6,388.74 L220,390.28 L220.4,389.69 L220.8,390.96 L221.2,391.04 L221.6,391.88 L222,393.14 L222.4,389.9 L222.8,392.15 L223.2,392.56 L223.6,392.48 L224,391.59 L224.4,391.74 L224.8,390.08 L225.2,391.91 L225.6,387.29 L226,390.59 L226.4,389.06 L226.8,389 L227.2,390.16 L227.6,390.94 L228,388.72 L228.4,389.73 L228.8,388.7 L229.2,388.4 L229.6,388.88 L230,389.03 L230.4,388.23 L230.8,389.86 L231.2,388.51 L231.6,389.44 L232,388.26 L232.4,385.15 L232.8,388.55 L233.2,386.61 L233.6,385.43 L234,389.61 L234.4,389.93 L234.8,389.9 L235.2,390.09 L235.6,389.32 L236,386.33 L236.4,389.54 L236.8,390.58 L237.2,388.11 L237.6,386.82 L238,387.9 L238.4,386.65 L238.8,388.73 L239.2,386.35 L239.6,387.02 L240,387.38 L240.4,389.12 L240.8,390.19 L241.2,389.61 L241.6,389.96 L242,389 L242.4,390.31 L242.8,387.14 L243.2,389.2 L243.6,389.24 L244,387.8 L244.4,383.47 L244.8,386.67 L245.2,384.97 L245.6,384.78 L246,384.76 L246.4,384.22 L246.8,382.32 L247.2,384.75 L247.6,387.02 L248,382.66 L248.4,386.4 L248.8,385.98 L249.2,386.36 L249.6,383.97 L250,382.51 L250.4,381.05 L250.8,384.36 L251.2,383.5 L251.6,383.36 L252,381.98 L252.4,381.43 L252.8,381.74 L253.2,383.55 L253.6,383.96 L254,382.19 L254.4,380.22 L254.8,383.63 L255.2,382.65 L255.6,381.67 L256,380.04 L256.4,382.6 L256.8,379.87 L257.2,383.28 L257.6,381.18 L258,380.3 L258.4,383.57 L258.8,381.2 L259.2,382.85 L259.6,382.23 L260,380.87 L260.4,383.89 L260.8,381.91 L261.2,380.94 L261.6,383.41 L262,382.28 L262.4,379 L262.8,378.17 L263.2,380.17 L263.6,379.02 L264,379.93 L264.4,381.23 L264.8,382.18 L265.2,381.8 L265.6,384.74 L266,385.58 L266.4,385.36 L266.8,385.82 L267.2,389.94 L267.6,386.96 L268,387.92 L268.4,385.97 L268.8,383.92 L269.2,387.45 L269.6,388.53 L270,387.18 L270.4,390.77 L270.8,389.53 L271.2,388.85 L271.6,389.21 L272,390.91 L272.4,392.33 L272.8,392.12 L273.2,391.74 L273.6,391.21 L274,390.02 L274.4,391.54 L274.8,392.01 L275.2,393.14 L275.6,394.38 L276,396.06 L276.4,393.59 L276.8,395.34 L277.2,394.05 L277.6,396.79 L278,395.27 L278.4,395.48 L278.8,394.91 L279.2,396.25 L279.6,394.09 L280,394.29 L280.4,397.43 L280.8,399.67 L281.2,402.12 L281.6,402.56 L282,403.38 L282.4,403.39 L282.8,405.59 L283.2,404.99 L283.6,403.8 L284,406.87 L284.4,404.25 L284.8,404.68 L285.2,402.61 L285.6,402.45 L286,401.66 L286.4,398.9 L286.8,395.55 L287.2,392 L287.6,394.25 L288,393.65 L288.4,390.59 L288.8,388.31 L289.2,392.98 L289.6,390.71 L290,389.68 L290.4,389.65 L290.8,389.59 L291.2,389.27 L291.6,390.89 L292,395.2 L292.4,398.78 L292.8,402.36 L293.2,406.04 L293.6,409.36 L294,415.29 L294.4,417.98 L294.8,420.9 L295.2,424.42 L295.6,427.82 L296,429.41 L296.4,431.8 L296.8,434.95 L297.2,438.63 L297.6,445.5 L298,453.22 L298.4,460.97" fill="none" stroke="#008000" stroke-width="1.15" stroke-linejoin="round"/>
<path d="M200,392.09 L200.4,393.15 L200.8,390.91 L201.2,390.22 L201.6,388.8 L202,388.5 L202.4,389.94 L202.8,387.37 L203.2,387.47 L203.6,386.82 L204,387.72 L204.4,389.51 L204.8,389.85 L205.2,391.16 L205.6,389.26 L206,391.79 L206.4,392.49 L206.8,392.58 L207.2,391.37 L207.6,390.06 L208,391.27 L208.4,391.15 L208.8,392.27 L209.2,394.33 L209.6,394.51 L210,389.53 L210.4,390.33 L210.8,391.87 L211.2,393.69 L211.6,391.63 L212,392.56 L212.4,394.06 L212.8,392.31 L213.2,394.34 L213.6,394.26 L214,394.22 L214.4,390.86 L214.8,391.86 L215.2,390.45 L215.6,392.04 L216,392.91 L216.4,394.02 L216.8,395.34 L217.2,394 L217.6,394.65 L218,392.58 L218.4,394.38 L218.8,397.32 L219.2,397.17 L219.6,397.2 L220,396.72 L220.4,395.61 L220.8,392.95 L221.2,396.7 L221.6,394.13 L222,394.23 L222.4,394.82 L222.8,390.34 L223.2,391.37 L223.6,392.8 L224,392.49 L224.4,391.47 L224.8,392.17 L225.2,391.19 L225.6,395.77 L226,394.26 L226.4,395.34 L226.8,396.01 L227.2,394.66 L227.6,394.14 L228,394.1 L228.4,394.62 L228.8,395.5 L229.2,397.03 L229.6,396.18 L230,397.58 L230.4,394.6 L230.8,396.21 L231.2,395.26 L231.6,393.45 L232,394.43 L232.4,393.29 L232.8,393.51 L233.2,392.53 L233.6,392.75 L234,392.88 L234.4,393.34 L234.8,393.55 L235.2,392.7 L235.6,391 L236,392.21 L236.4,392.46 L236.8,390.83 L237.2,392.58 L237.6,395.21 L238,393.91 L238.4,396 L238.8,396.51 L239.2,399.11 L239.6,395.44 L240,393.33 L240.4,395.48 L240.8,395.92 L241.2,394.67 L241.6,392.32 L242,394.8 L242.4,396.77 L242.8,395.04 L243.2,396.65 L243.6,397.1 L244,394.82 L244.4,394.43 L244.8,398.08 L245.2,398.36 L245.6,401.23 L246,402.09 L246.4,400.12 L246.8,399.39 L247.2,400.53 L247.6,404.8 L248,407.03 L248.4,403.22 L248.8,403 L249.2,403.4 L249.6,404.88 L250,403.26 L250.4,406.25 L250.8,409.76 L251.2,407.91 L251.6,409.53 L252,410.71 L252.4,406.16 L252.8,403.99 L253.2,404.33 L253.6,407.93 L254,407.94 L254.4,408.37 L254.8,403.8 L255.2,410.14 L255.6,408.02 L256,412.53 L256.4,410.45 L256.8,410.08 L257.2,408.43 L257.6,413.24 L258,412.16 L258.4,411.85 L258.8,411.13 L259.2,405.67 L259.6,407.05 L260,407.7 L260.4,402.85 L260.8,408.52 L261.2,408.04 L261.6,408.32 L262,407.65 L262.4,409.67 L262.8,409.99 L263.2,406.05 L263.6,405.2 L264,408.31 L264.4,410.37 L264.8,415.62 L265.2,412.41 L265.6,410.96 L266,414.7 L266.4,415.65 L266.8,413.84 L267.2,415.7 L267.6,415.73 L268,417.68 L268.4,417.21 L268.8,418.58 L269.2,415.5 L269.6,418.01 L270,413.15 L270.4,416.63 L270.8,418.94 L271.2,418.01 L271.6,415.68 L272,412.76 L272.4,416.01 L272.8,417.48 L273.2,415.98 L273.6,413.72 L274,412.75 L274.4,412.68 L274.8,410.19 L275.2,412.45 L275.6,412.64 L276,411.62 L276.4,411.34 L276.8,413.14 L277.2,410.16 L277.6,411.13 L278,417.5 L278.4,415.18 L278.8,416.73 L279.2,416.97 L279.6,417.11 L280,414.68 L280.4,416.87 L280.8,416.58 L281.2,413.52 L281.6,417.13 L282,419.54 L282.4,417.33 L282.8,419.3 L283.2,419.15 L283.6,418.23 L284,418.03 L284.4,419 L284.8,424.57 L285.2,425.14 L285.6,422.1 L286,425.72 L286.4,419.18 L286.8,416.86 L287.2,414.38 L287.6,413.39 L288,417.61 L288.4,422.54 L288.8,427.25 L289.2,427.33 L289.6,423.38 L290,418.04 L290.4,412.58 L290.8,416.5 L291.2,421.8 L291.6,428.53 L292,433.92 L292.4,429.05 L292.8,425.53 L293.2,420.9 L293.6,418.03 L294,422.28 L294.4,425.18 L294.8,428.53 L295.2,432.39 L295.6,434.6 L296,436.72 L296.4,438.02 L296.8,442.68 L297.2,447.87 L297.6,452.12 L298,455.66 L298.4,460.03 L298.8,460.84 L299.2,460.49 L299.6,457.06 L300,444.16 L300.4,432.46 L300.8,422.83 L301.2,413.5 L301.6,409.55 L302,418.09 L302.4,427.77 L302.8,437.13 L303.2,446.74 L303.6,442.73 L304,437.44 L304.4,431.49 L304.8,428.02 L305.2,424.94 L305.6,421.97 L306,419.91 L306.4,417.81 L306.8,415.45 L307.2,414.81 L307.6,412.79 L308,416.18 L308.4,422.72 L308.8,427.98 L309.2,426.41 L309.6,422.91 L310,418.93 L310.4,415.72 L310.8,411.77 L311.2,417.9 L311.6,423.24 L312,428.47 L312.4,422.97 L312.8,416.09 L313.2,412.12 L313.6,412.6 L314,411.65 L314.4,412.66 L314.8,411.75 L315.2,412.45 L315.6,413.51 L316,416.1 L316.4,422.28 L316.8,427.09 L317.2,431.44 L317.6,437.22 L318,442.41 L318.4,447.64 L318.8,452.91 L319.2,458.14 L319.6,461.66" fill="none" stroke="#008000" stroke-width="1.15" stroke-linejoin="round"/>
<path d="M196,384.8 L196.35,385.35 L196.7,383.76 L197.05,383.49 L197.4,383.84 L197.75,384.96 L198.1,389.31 L198.45,388.47 L198.8,385.97 L199.15,382.74 L199.5,386.28 L199.85,391.77 L200.2,392.74 L200.55,388.52 L200.9,389.92 L201.25,388.21 L201.6,388.93 L201.95,391.35 L202.3,388.79 L202.65,391.72 L203,390.32 L203.35,385.85 L203.7,390.23 L204.05,393.45 L204.4,390.61 L204.75,385.96 L205.1,389.57 L205.45,388.56 L205.8,389.89 L206.15,389.84 L206.5,392.18 L206.85,385.72 L207.2,391.13 L207.55,391.34 L207.9,388.78 L208.25,388.04 L208.6,393.56 L208.95,392.51 L209.3,392.84 L209.65,391 L210,391.58 L210.35,390.88 L210.7,390.55 L211.05,391.85 L211.4,392.04 L211.75,392.86 L212.1,390.32 L212.45,386.46 L212.8,386.65 L213.15,389.9 L213.5,387.61 L213.85,389.05 L214.2,390.62 L214.55,389.44 L214.9,390.64 L215.25,395.2 L215.6,394.59 L215.95,395.17 L216.3,395.41 L216.65,392.13 L217,393.16 L217.35,398.79 L217.7,394.29 L218.05,392.65 L218.4,396.1 L218.75,397.85 L219.1,393.92 L219.45,396.33 L219.8,395.62 L220.15,392.36 L220.5,391.96 L220.85,394.29 L221.2,395.35 L221.55,390.31 L221.9,388.66 L222.25,393.88 L222.6,392.3 L222.95,391.76 L223.3,388.41 L223.65,388.17 L224,391.33 L224.35,397.12 L224.7,392.65 L225.05,394.13 L225.4,391.84 L225.75,397.24 L226.1,391.44 L226.45,392.54 L226.8,389.65 L227.15,393.84 L227.5,388.57 L227.85,391.93 L228.2,392.74 L228.55,391.27 L228.9,393.64 L229.25,392.9 L229.6,397.91 L229.95,392.81 L230.3,393.12 L230.65,389.5 L231,393.37 L231.35,393.19 L231.7,391.51 L232.05,391.13 L232.4,392.99 L232.75,389.08 L233.1,389.37 L233.45,394.66 L233.8,392.82 L234.15,394.12 L234.5,396.61 L234.85,394.58 L235.2,389.86 L235.55,392.16 L235.9,394.27 L236.25,394.08 L236.6,396.51 L236.95,391.64 L237.3,389.73 L237.65,389.87 L238,389.65 L238.35,393.29 L238.7,394.21 L239.05,390.88 L239.4,388.86 L239.75,388.59" fill="none" stroke="#008000" stroke-width="1.1" stroke-linejoin="round"/>
<circle cx="323.2" cy="460" r="0.9" fill="#008000"/>
<g stroke="#000" stroke-width="1.2">
<line x1="46.7" y1="461.4" x2="46.7" y2="456.4"/>
<line x1="46.7" y1="259.3" x2="46.7" y2="264.3"/>
<line x1="113.95" y1="461.4" x2="113.95" y2="456.4"/>
<line x1="113.95" y1="259.3" x2="113.95" y2="264.3"/>
<line x1="181.2" y1="461.4" x2="181.2" y2="456.4"/>
<line x1="181.2" y1="259.3" x2="181.2" y2="264.3"/>
<line x1="248.45" y1="461.4" x2="248.45" y2="456.4"/>
<line x1="248.45" y1="259.3" x2="248.45" y2="264.3"/>
<line x1="315.7" y1="461.4" x2="315.7" y2="456.4"/>
<line x1="315.7" y1="259.3" x2="315.7" y2="264.3"/>
<line x1="66.94" y1="461.4" x2="66.94" y2="458.8"/>
<line x1="66.94" y1="259.3" x2="66.94" y2="261.9"/>
<line x1="78.79" y1="461.4" x2="78.79" y2="458.8"/>
<line x1="78.79" y1="259.3" x2="78.79" y2="261.9"/>
<line x1="87.19" y1="461.4" x2="87.19" y2="458.8"/>
<line x1="87.19" y1="259.3" x2="87.19" y2="261.9"/>
<line x1="93.71" y1="461.4" x2="93.71" y2="458.8"/>
<line x1="93.71" y1="259.3" x2="93.71" y2="261.9"/>
<line x1="99.03" y1="461.4" x2="99.03" y2="458.8"/>
<line x1="99.03" y1="259.3" x2="99.03" y2="261.9"/>
<line x1="103.53" y1="461.4" x2="103.53" y2="458.8"/>
<line x1="103.53" y1="259.3" x2="103.53" y2="261.9"/>
<line x1="107.43" y1="461.4" x2="107.43" y2="458.8"/>
<line x1="107.43" y1="259.3" x2="107.43" y2="261.9"/>
<line x1="110.87" y1="461.4" x2="110.87" y2="458.8"/>
<line x1="110.87" y1="259.3" x2="110.87" y2="261.9"/>
<line x1="134.19" y1="461.4" x2="134.19" y2="458.8"/>
<line x1="134.19" y1="259.3" x2="134.19" y2="261.9"/>
<line x1="146.04" y1="461.4" x2="146.04" y2="458.8"/>
<line x1="146.04" y1="259.3" x2="146.04" y2="261.9"/>
<line x1="154.44" y1="461.4" x2="154.44" y2="458.8"/>
<line x1="154.44" y1="259.3" x2="154.44" y2="261.9"/>
<line x1="160.96" y1="461.4" x2="160.96" y2="458.8"/>
<line x1="160.96" y1="259.3" x2="160.96" y2="261.9"/>
<line x1="166.28" y1="461.4" x2="166.28" y2="458.8"/>
<line x1="166.28" y1="259.3" x2="166.28" y2="261.9"/>
<line x1="170.78" y1="461.4" x2="170.78" y2="458.8"/>
<line x1="170.78" y1="259.3" x2="170.78" y2="261.9"/>
<line x1="174.68" y1="461.4" x2="174.68" y2="458.8"/>
<line x1="174.68" y1="259.3" x2="174.68" y2="261.9"/>
<line x1="178.12" y1="461.4" x2="178.12" y2="458.8"/>
<line x1="178.12" y1="259.3" x2="178.12" y2="261.9"/>
<line x1="201.44" y1="461.4" x2="201.44" y2="458.8"/>
<line x1="201.44" y1="259.3" x2="201.44" y2="261.9"/>
<line x1="213.29" y1="461.4" x2="213.29" y2="458.8"/>
<line x1="213.29" y1="259.3" x2="213.29" y2="261.9"/>
<line x1="221.69" y1="461.4" x2="221.69" y2="458.8"/>
<line x1="221.69" y1="259.3" x2="221.69" y2="261.9"/>
<line x1="228.21" y1="461.4" x2="228.21" y2="458.8"/>
<line x1="228.21" y1="259.3" x2="228.21" y2="261.9"/>
<line x1="233.53" y1="461.4" x2="233.53" y2="458.8"/>
<line x1="233.53" y1="259.3" x2="233.53" y2="261.9"/>
<line x1="238.03" y1="461.4" x2="238.03" y2="458.8"/>
<line x1="238.03" y1="259.3" x2="238.03" y2="261.9"/>
<line x1="241.93" y1="461.4" x2="241.93" y2="458.8"/>
<line x1="241.93" y1="259.3" x2="241.93" y2="261.9"/>
<line x1="245.37" y1="461.4" x2="245.37" y2="458.8"/>
<line x1="245.37" y1="259.3" x2="245.37" y2="261.9"/>
<line x1="268.69" y1="461.4" x2="268.69" y2="458.8"/>
<line x1="268.69" y1="259.3" x2="268.69" y2="261.9"/>
<line x1="280.54" y1="461.4" x2="280.54" y2="458.8"/>
<line x1="280.54" y1="259.3" x2="280.54" y2="261.9"/>
<line x1="288.94" y1="461.4" x2="288.94" y2="458.8"/>
<line x1="288.94" y1="259.3" x2="288.94" y2="261.9"/>
<line x1="295.46" y1="461.4" x2="295.46" y2="458.8"/>
<line x1="295.46" y1="259.3" x2="295.46" y2="261.9"/>
<line x1="300.78" y1="461.4" x2="300.78" y2="458.8"/>
<line x1="300.78" y1="259.3" x2="300.78" y2="261.9"/>
<line x1="305.28" y1="461.4" x2="305.28" y2="458.8"/>
<line x1="305.28" y1="259.3" x2="305.28" y2="261.9"/>
<line x1="309.18" y1="461.4" x2="309.18" y2="458.8"/>
<line x1="309.18" y1="259.3" x2="309.18" y2="261.9"/>
<line x1="312.62" y1="461.4" x2="312.62" y2="458.8"/>
<line x1="312.62" y1="259.3" x2="312.62" y2="261.9"/>
<line x1="46.8" y1="461.6" x2="51.8" y2="461.6"/>
<line x1="335.9" y1="461.6" x2="330.9" y2="461.6"/>
<line x1="46.8" y1="394" x2="51.8" y2="394"/>
<line x1="335.9" y1="394" x2="330.9" y2="394"/>
<line x1="46.8" y1="326.4" x2="51.8" y2="326.4"/>
<line x1="335.9" y1="326.4" x2="330.9" y2="326.4"/>
<line x1="46.8" y1="258.8" x2="51.8" y2="258.8"/>
<line x1="335.9" y1="258.8" x2="330.9" y2="258.8"/>
<line x1="46.8" y1="441.25" x2="49.4" y2="441.25"/>
<line x1="335.9" y1="441.25" x2="333.3" y2="441.25"/>
<line x1="46.8" y1="429.35" x2="49.4" y2="429.35"/>
<line x1="335.9" y1="429.35" x2="333.3" y2="429.35"/>
<line x1="46.8" y1="420.9" x2="49.4" y2="420.9"/>
<line x1="335.9" y1="420.9" x2="333.3" y2="420.9"/>
<line x1="46.8" y1="414.35" x2="49.4" y2="414.35"/>
<line x1="335.9" y1="414.35" x2="333.3" y2="414.35"/>
<line x1="46.8" y1="409" x2="49.4" y2="409"/>
<line x1="335.9" y1="409" x2="333.3" y2="409"/>
<line x1="46.8" y1="404.47" x2="49.4" y2="404.47"/>
<line x1="335.9" y1="404.47" x2="333.3" y2="404.47"/>
<line x1="46.8" y1="400.55" x2="49.4" y2="400.55"/>
<line x1="335.9" y1="400.55" x2="333.3" y2="400.55"/>
<line x1="46.8" y1="397.09" x2="49.4" y2="397.09"/>
<line x1="335.9" y1="397.09" x2="333.3" y2="397.09"/>
<line x1="46.8" y1="373.65" x2="49.4" y2="373.65"/>
<line x1="335.9" y1="373.65" x2="333.3" y2="373.65"/>
<line x1="46.8" y1="361.75" x2="49.4" y2="361.75"/>
<line x1="335.9" y1="361.75" x2="333.3" y2="361.75"/>
<line x1="46.8" y1="353.3" x2="49.4" y2="353.3"/>
<line x1="335.9" y1="353.3" x2="333.3" y2="353.3"/>
<line x1="46.8" y1="346.75" x2="49.4" y2="346.75"/>
<line x1="335.9" y1="346.75" x2="333.3" y2="346.75"/>
<line x1="46.8" y1="341.4" x2="49.4" y2="341.4"/>
<line x1="335.9" y1="341.4" x2="333.3" y2="341.4"/>
<line x1="46.8" y1="336.87" x2="49.4" y2="336.87"/>
<line x1="335.9" y1="336.87" x2="333.3" y2="336.87"/>
<line x1="46.8" y1="332.95" x2="49.4" y2="332.95"/>
<line x1="335.9" y1="332.95" x2="333.3" y2="332.95"/>
<line x1="46.8" y1="329.49" x2="49.4" y2="329.49"/>
<line x1="335.9" y1="329.49" x2="333.3" y2="329.49"/>
<line x1="46.8" y1="306.05" x2="49.4" y2="306.05"/>
<line x1="335.9" y1="306.05" x2="333.3" y2="306.05"/>
<line x1="46.8" y1="294.15" x2="49.4" y2="294.15"/>
<line x1="335.9" y1="294.15" x2="333.3" y2="294.15"/>
<line x1="46.8" y1="285.7" x2="49.4" y2="285.7"/>
<line x1="335.9" y1="285.7" x2="333.3" y2="285.7"/>
<line x1="46.8" y1="279.15" x2="49.4" y2="279.15"/>
<line x1="335.9" y1="279.15" x2="333.3" y2="279.15"/>
<line x1="46.8" y1="273.8" x2="49.4" y2="273.8"/>
<line x1="335.9" y1="273.8" x2="333.3" y2="273.8"/>
<line x1="46.8" y1="269.27" x2="49.4" y2="269.27"/>
<line x1="335.9" y1="269.27" x2="333.3" y2="269.27"/>
<line x1="46.8" y1="265.35" x2="49.4" y2="265.35"/>
<line x1="335.9" y1="265.35" x2="333.3" y2="265.35"/>
<line x1="46.8" y1="261.89" x2="49.4" y2="261.89"/>
<line x1="335.9" y1="261.89" x2="333.3" y2="261.89"/>
</g>
<rect x="46.8" y="259.3" width="289.1" height="202.1" fill="none" stroke="#000" stroke-width="1.5"/>
<text x="21.61" y="465.9" font-size="12" fill="#000" stroke="#000" stroke-width="0.35"> 0</text>
<path d="M763,0 L583,0 L583,1147 C540,1106 484,1065 414,1024 C344,983 281,952 223,931 L223,1105 C320,1150 404,1205 476,1268 C548,1331 599,1393 629,1454 L763,1454 Z" transform="translate(21.61,465.9) scale(0.005859,-0.005859)" fill="#000" stroke="#000" stroke-width="0.35" vector-effect="non-scaling-stroke"/>
<text x="34.95" y="461.4" font-size="8.6" fill="#000" stroke="#000" stroke-width="0.35">-2</text>
<text x="21.61" y="398.3" font-size="12" fill="#000" stroke="#000" stroke-width="0.35"> 0</text>
<path d="M763,0 L583,0 L583,1147 C540,1106 484,1065 414,1024 C344,983 281,952 223,931 L223,1105 C320,1150 404,1205 476,1268 C548,1331 599,1393 629,1454 L763,1454 Z" transform="translate(21.61,398.3) scale(0.005859,-0.005859)" fill="#000" stroke="#000" stroke-width="0.35" vector-effect="non-scaling-stroke"/>
<text x="34.95" y="393.8" font-size="8.6" fill="#000" stroke="#000" stroke-width="0.35">- </text>
<path d="M763,0 L583,0 L583,1147 C540,1106 484,1065 414,1024 C344,983 281,952 223,931 L223,1105 C320,1150 404,1205 476,1268 C548,1331 599,1393 629,1454 L763,1454 Z" transform="translate(37.82,393.8) scale(0.004199,-0.004199)" fill="#000" stroke="#000" stroke-width="0.35" vector-effect="non-scaling-stroke"/>
<text x="24.47" y="330.7" font-size="12" fill="#000" stroke="#000" stroke-width="0.35"> 0</text>
<path d="M763,0 L583,0 L583,1147 C540,1106 484,1065 414,1024 C344,983 281,952 223,931 L223,1105 C320,1150 404,1205 476,1268 C548,1331 599,1393 629,1454 L763,1454 Z" transform="translate(24.47,330.7) scale(0.005859,-0.005859)" fill="#000" stroke="#000" stroke-width="0.35" vector-effect="non-scaling-stroke"/>
<text x="37.82" y="326.2" font-size="8.6" fill="#000" stroke="#000" stroke-width="0.35">0</text>
<text x="24.47" y="263.1" font-size="12" fill="#000" stroke="#000" stroke-width="0.35"> 0</text>
<path d="M763,0 L583,0 L583,1147 C540,1106 484,1065 414,1024 C344,983 281,952 223,931 L223,1105 C320,1150 404,1205 476,1268 C548,1331 599,1393 629,1454 L763,1454 Z" transform="translate(24.47,263.1) scale(0.005859,-0.005859)" fill="#000" stroke="#000" stroke-width="0.35" vector-effect="non-scaling-stroke"/>
<text x="37.82" y="258.6" font-size="8.6" fill="#000" stroke="#000" stroke-width="0.35"> </text>
<path d="M763,0 L583,0 L583,1147 C540,1106 484,1065 414,1024 C344,983 281,952 223,931 L223,1105 C320,1150 404,1205 476,1268 C548,1331 599,1393 629,1454 L763,1454 Z" transform="translate(37.82,258.6) scale(0.004199,-0.004199)" fill="#000" stroke="#000" stroke-width="0.35" vector-effect="non-scaling-stroke"/>
<text x="38.13" y="478.6" font-size="12" fill="#000" stroke="#000" stroke-width="0.35"> 0</text>
<path d="M763,0 L583,0 L583,1147 C540,1106 484,1065 414,1024 C344,983 281,952 223,931 L223,1105 C320,1150 404,1205 476,1268 C548,1331 599,1393 629,1454 L763,1454 Z" transform="translate(38.13,478.6) scale(0.005859,-0.005859)" fill="#000" stroke="#000" stroke-width="0.35" vector-effect="non-scaling-stroke"/>
<text x="51.48" y="474" font-size="8.6" fill="#000" stroke="#000" stroke-width="0.35"> </text>
<path d="M763,0 L583,0 L583,1147 C540,1106 484,1065 414,1024 C344,983 281,952 223,931 L223,1105 C320,1150 404,1205 476,1268 C548,1331 599,1393 629,1454 L763,1454 Z" transform="translate(51.48,474) scale(0.004199,-0.004199)" fill="#000" stroke="#000" stroke-width="0.35" vector-effect="non-scaling-stroke"/>
<text x="105.38" y="478.6" font-size="12" fill="#000" stroke="#000" stroke-width="0.35"> 0</text>
<path d="M763,0 L583,0 L583,1147 C540,1106 484,1065 414,1024 C344,983 281,952 223,931 L223,1105 C320,1150 404,1205 476,1268 C548,1331 599,1393 629,1454 L763,1454 Z" transform="translate(105.38,478.6) scale(0.005859,-0.005859)" fill="#000" stroke="#000" stroke-width="0.35" vector-effect="non-scaling-stroke"/>
<text x="118.73" y="474" font-size="8.6" fill="#000" stroke="#000" stroke-width="0.35">2</text>
<text x="172.63" y="478.6" font-size="12" fill="#000" stroke="#000" stroke-width="0.35"> 0</text>
<path d="M763,0 L583,0 L583,1147 C540,1106 484,1065 414,1024 C344,983 281,952 223,931 L223,1105 C320,1150 404,1205 476,1268 C548,1331 599,1393 629,1454 L763,1454 Z" transform="translate(172.63,478.6) scale(0.005859,-0.005859)" fill="#000" stroke="#000" stroke-width="0.35" vector-effect="non-scaling-stroke"/>
<text x="185.98" y="474" font-size="8.6" fill="#000" stroke="#000" stroke-width="0.35">3</text>
<text x="239.88" y="478.6" font-size="12" fill="#000" stroke="#000" stroke-width="0.35"> 0</text>
<path d="M763,0 L583,0 L583,1147 C540,1106 484,1065 414,1024 C344,983 281,952 223,931 L223,1105 C320,1150 404,1205 476,1268 C548,1331 599,1393 629,1454 L763,1454 Z" transform="translate(239.88,478.6) scale(0.005859,-0.005859)" fill="#000" stroke="#000" stroke-width="0.35" vector-effect="non-scaling-stroke"/>
<text x="253.23" y="474" font-size="8.6" fill="#000" stroke="#000" stroke-width="0.35">4</text>
<text x="307.13" y="478.6" font-size="12" fill="#000" stroke="#000" stroke-width="0.35"> 0</text>
<path d="M763,0 L583,0 L583,1147 C540,1106 484,1065 414,1024 C344,983 281,952 223,931 L223,1105 C320,1150 404,1205 476,1268 C548,1331 599,1393 629,1454 L763,1454 Z" transform="translate(307.13,478.6) scale(0.005859,-0.005859)" fill="#000" stroke="#000" stroke-width="0.35" vector-effect="non-scaling-stroke"/>
<text x="320.48" y="474" font-size="8.6" fill="#000" stroke="#000" stroke-width="0.35">5</text>
<text x="54.9" y="279" font-size="12" text-anchor="start" fill="#000" stroke="#000" stroke-width="0.1" font-weight="bold" >(b)</text>
<text x="74.3" y="279" font-size="12" text-anchor="start" fill="#000" stroke="#000" stroke-width="0.35" font-weight="normal" >Allan deviation</text>
<text x="86.05" y="321" font-size="12" text-anchor="start" fill="#0000ff" stroke="#0000ff" stroke-width="0.35" font-weight="normal" >Without gain correction</text>
<text x="125.1" y="422.7" font-size="12" text-anchor="start" fill="#008000" stroke="#008000" stroke-width="0.35" font-weight="normal" >With gain correction by</text>
<text x="125.1" y="437" font-size="12" text-anchor="start" fill="#008000" stroke="#008000" stroke-width="0.35" font-weight="normal" >20 Hz reference tone</text>
<text x="179" y="498.1" font-size="12" text-anchor="start" fill="#000" stroke="#000" stroke-width="0.35" font-weight="normal" xml:space="preserve"><tspan font-family="Liberation Serif" font-style="italic" font-size="13">τ</tspan><tspan dx="-0.7">  (s)</tspan></text>
<text transform="translate(9.2,359.6) rotate(-90)" stroke="#000" stroke-width="0.35" font-size="12.3" text-anchor="middle" xml:space="preserve">σ<tspan font-size="9.6" dy="2.6"><tspan font-style="italic">G</tspan>,0</tspan><tspan dy="-2.6">/</tspan><tspan font-style="italic">G</tspan><tspan font-size="8.5" dy="2.5">0</tspan><tspan dy="-2.5">  (μV/V)</tspan></text>
</svg>
</body></html>
